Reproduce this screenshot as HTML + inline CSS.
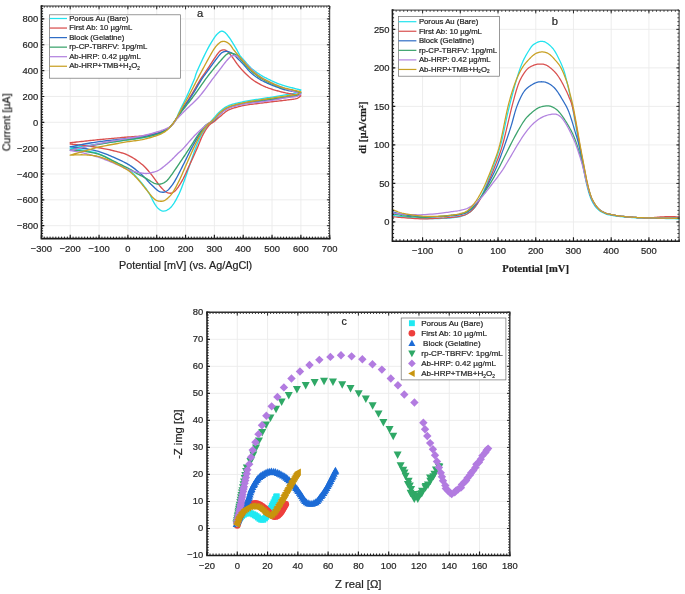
<!DOCTYPE html>
<html><head><meta charset="utf-8"><title>Electrochemical characterisation</title>
<style>html,body{margin:0;padding:0;background:#fff;}body{width:685px;height:594px;overflow:hidden;}svg{display:block;font-family:"Liberation Sans", sans-serif;}text{stroke:#262626;stroke-width:.22px;}</style></head><body>
<svg width="685" height="594" viewBox="0 0 685 594">
<defs><filter id="soft" x="0" y="0" width="100%" height="100%" filterUnits="userSpaceOnUse" color-interpolation-filters="sRGB"><feGaussianBlur stdDeviation="0.42"/></filter></defs>
<rect width="685" height="594" fill="#fff"/>
<g filter="url(#soft)">
<rect width="685" height="594" fill="#fff"/>
<g id="chart-a">
<path d="M70.23 6 V238.6 M99.06 6 V238.6 M127.89 6 V238.6 M156.72 6 V238.6 M185.55 6 V238.6 M214.38 6 V238.6 M243.21 6 V238.6 M272.04 6 V238.6 M300.87 6 V238.6 M41.4 225.68 H329.7 M41.4 199.83 H329.7 M41.4 173.99 H329.7 M41.4 148.14 H329.7 M41.4 122.3 H329.7 M41.4 96.46 H329.7 M41.4 70.61 H329.7 M41.4 44.77 H329.7 M41.4 18.92 H329.7" stroke="#ebebeb" stroke-width="0.9" fill="none"/>
<path d="M70.23 148.14 L71.09 148.01 L72.19 147.84 L73.49 147.64 L74.96 147.42 L76.54 147.18 L78.19 146.92 L79.87 146.67 L81.53 146.41 L83.14 146.17 L84.64 145.95 L86.09 145.74 L87.53 145.53 L88.97 145.32 L90.41 145.11 L91.85 144.91 L93.29 144.7 L94.74 144.5 L96.18 144.29 L97.62 144.09 L99.06 143.88 L100.5 143.67 L101.94 143.47 L103.38 143.26 L104.83 143.05 L106.27 142.85 L107.71 142.64 L109.15 142.43 L110.59 142.23 L112.03 142.02 L113.47 141.81 L114.92 141.61 L116.36 141.4 L117.8 141.19 L119.24 140.98 L120.68 140.77 L122.12 140.56 L123.57 140.36 L125.01 140.15 L126.45 139.95 L127.89 139.75 L129.33 139.55 L130.77 139.38 L132.21 139.21 L133.66 139.04 L135.1 138.87 L136.54 138.7 L137.98 138.51 L139.42 138.3 L140.86 138.07 L142.31 137.81 L143.77 137.51 L145.28 137.19 L146.81 136.85 L148.35 136.49 L149.87 136.12 L151.37 135.73 L152.82 135.35 L154.21 134.96 L155.51 134.57 L156.72 134.19 L157.83 133.82 L158.86 133.45 L159.81 133.09 L160.71 132.72 L161.55 132.35 L162.35 131.97 L163.13 131.58 L163.88 131.17 L164.62 130.75 L165.37 130.31 L166.1 129.85 L166.81 129.39 L167.5 128.9 L168.16 128.41 L168.79 127.91 L169.41 127.38 L170.01 126.85 L170.59 126.3 L171.16 125.73 L171.71 125.14 L172.25 124.54 L172.76 123.92 L173.26 123.28 L173.73 122.63 L174.19 121.96 L174.64 121.28 L175.07 120.58 L175.5 119.87 L175.91 119.15 L176.32 118.42 L176.71 117.7 L177.05 117 L177.36 116.3 L177.66 115.6 L177.96 114.87 L178.27 114.11 L178.6 113.29 L178.97 112.42 L179.39 111.46 L179.87 110.41 L180.42 109.27 L181.02 108.04 L181.67 106.73 L182.35 105.37 L183.06 103.95 L183.79 102.49 L184.52 101 L185.26 99.49 L185.99 97.97 L186.7 96.46 L187.43 94.89 L188.18 93.24 L188.96 91.53 L189.74 89.79 L190.52 88.04 L191.28 86.31 L192.01 84.64 L192.7 83.04 L193.34 81.54 L193.91 80.17 L194.38 79 L194.74 78.01 L195.03 77.16 L195.26 76.4 L195.48 75.67 L195.71 74.91 L195.99 74.08 L196.34 73.13 L196.79 71.99 L197.37 70.61 L198.1 68.96 L198.96 67.05 L199.91 64.96 L200.93 62.74 L202 60.44 L203.09 58.13 L204.18 55.87 L205.22 53.71 L206.21 51.71 L207.11 49.94 L207.96 48.33 L208.77 46.82 L209.57 45.4 L210.34 44.07 L211.09 42.81 L211.8 41.64 L212.49 40.54 L213.15 39.51 L213.78 38.55 L214.38 37.66 L214.94 36.85 L215.45 36.15 L215.92 35.54 L216.37 35 L216.79 34.53 L217.19 34.12 L217.57 33.74 L217.95 33.4 L218.32 33.07 L218.7 32.75 L219.08 32.44 L219.43 32.16 L219.76 31.92 L220.09 31.71 L220.41 31.53 L220.72 31.39 L221.04 31.28 L221.36 31.21 L221.7 31.19 L222.05 31.2 L222.41 31.25 L222.77 31.33 L223.14 31.44 L223.5 31.6 L223.88 31.79 L224.26 32.02 L224.66 32.3 L225.06 32.61 L225.48 32.98 L225.91 33.4 L226.36 33.87 L226.83 34.4 L227.31 34.98 L227.8 35.62 L228.3 36.29 L228.81 36.99 L229.33 37.72 L229.84 38.46 L230.36 39.22 L230.87 39.99 L231.39 40.78 L231.92 41.61 L232.47 42.48 L233.01 43.38 L233.56 44.29 L234.1 45.2 L234.63 46.1 L235.15 46.99 L235.65 47.84 L236.12 48.64 L236.57 49.42 L237 50.2 L237.42 50.97 L237.82 51.72 L238.21 52.45 L238.59 53.15 L238.97 53.83 L239.33 54.47 L239.69 55.07 L240.04 55.62 L240.36 56.1 L240.63 56.48 L240.87 56.79 L241.1 57.07 L241.33 57.33 L241.59 57.59 L241.87 57.89 L242.21 58.25 L242.62 58.69 L243.12 59.24 L243.71 59.91 L244.38 60.68 L245.1 61.53 L245.88 62.44 L246.7 63.38 L247.55 64.34 L248.42 65.29 L249.29 66.22 L250.15 67.09 L250.99 67.9 L251.83 68.65 L252.69 69.38 L253.56 70.08 L254.44 70.77 L255.32 71.43 L256.21 72.08 L257.1 72.71 L257.99 73.32 L258.88 73.91 L259.76 74.49 L260.63 75.04 L261.51 75.57 L262.38 76.08 L263.25 76.57 L264.13 77.04 L265 77.5 L265.87 77.95 L266.75 78.39 L267.62 78.83 L268.49 79.27 L269.37 79.71 L270.26 80.14 L271.15 80.57 L272.05 81 L272.94 81.41 L273.82 81.81 L274.7 82.2 L275.56 82.58 L276.41 82.94 L277.23 83.27 L278.02 83.59 L278.78 83.89 L279.52 84.16 L280.25 84.42 L280.96 84.67 L281.68 84.91 L282.41 85.15 L283.15 85.38 L283.92 85.62 L284.73 85.86 L285.57 86.1 L286.45 86.35 L287.35 86.59 L288.28 86.83 L289.21 87.07 L290.14 87.3 L291.06 87.53 L291.96 87.76 L292.83 87.97 L293.66 88.19 L294.49 88.4 L295.33 88.61 L296.18 88.82 L297.02 89.03 L297.82 89.24 L298.59 89.43 L299.29 89.6 L299.92 89.76 L300.45 89.89 L300.87 89.99 L300.64 90.17 L300.37 90.4 L300.07 90.67 L299.73 90.98 L299.34 91.3 L298.9 91.64 L298.4 91.97 L297.85 92.29 L297.23 92.58 L296.55 92.84 L295.79 93.06 L294.97 93.25 L294.08 93.44 L293.13 93.6 L292.13 93.77 L291.08 93.93 L289.98 94.09 L288.84 94.26 L287.67 94.44 L286.45 94.65 L285.19 94.87 L283.85 95.1 L282.45 95.34 L281 95.59 L279.52 95.85 L278.01 96.11 L276.5 96.36 L274.99 96.62 L273.5 96.86 L272.04 97.1 L270.6 97.33 L269.16 97.55 L267.72 97.77 L266.27 97.99 L264.83 98.2 L263.39 98.41 L261.95 98.63 L260.51 98.85 L259.07 99.07 L257.62 99.3 L256.18 99.53 L254.74 99.75 L253.3 99.98 L251.86 100.2 L250.42 100.43 L248.98 100.67 L247.53 100.91 L246.09 101.18 L244.65 101.45 L243.21 101.75 L241.74 102.07 L240.23 102.39 L238.7 102.72 L237.17 103.06 L235.64 103.42 L234.15 103.79 L232.7 104.18 L231.31 104.6 L230 105.04 L228.8 105.5 L227.68 106 L226.65 106.53 L225.69 107.08 L224.78 107.66 L223.93 108.26 L223.12 108.86 L222.35 109.48 L221.6 110.1 L220.87 110.71 L220.15 111.32 L219.46 111.91 L218.82 112.5 L218.23 113.09 L217.67 113.68 L217.14 114.28 L216.61 114.89 L216.08 115.51 L215.54 116.16 L214.98 116.82 L214.38 117.52 L213.75 118.24 L213.11 118.98 L212.45 119.74 L211.78 120.52 L211.11 121.31 L210.43 122.13 L209.76 122.96 L209.08 123.8 L208.41 124.66 L207.75 125.53 L207.09 126.41 L206.42 127.29 L205.76 128.18 L205.09 129.08 L204.43 130 L203.77 130.94 L203.12 131.92 L202.48 132.93 L201.85 133.99 L201.23 135.09 L200.64 136.25 L200.05 137.44 L199.48 138.67 L198.92 139.94 L198.37 141.25 L197.83 142.58 L197.28 143.94 L196.74 145.32 L196.19 146.72 L195.64 148.14 L195.09 149.59 L194.54 151.08 L193.99 152.59 L193.45 154.13 L192.9 155.7 L192.36 157.27 L191.81 158.86 L191.26 160.46 L190.71 162.06 L190.16 163.65 L189.61 165.25 L189.06 166.87 L188.51 168.51 L187.96 170.15 L187.41 171.8 L186.86 173.45 L186.3 175.09 L185.73 176.72 L185.16 178.34 L184.57 179.93 L183.98 181.52 L183.38 183.13 L182.78 184.73 L182.17 186.33 L181.56 187.91 L180.93 189.47 L180.3 191 L179.66 192.49 L179.01 193.93 L178.34 195.31 L177.66 196.66 L176.96 198 L176.25 199.31 L175.53 200.59 L174.8 201.83 L174.07 203.01 L173.33 204.12 L172.59 205.15 L171.86 206.1 L171.14 206.94 L170.41 207.69 L169.67 208.35 L168.92 208.94 L168.17 209.45 L167.42 209.89 L166.69 210.26 L165.96 210.56 L165.26 210.79 L164.58 210.96 L163.93 211.08 L163.31 211.11 L162.71 211.07 L162.13 210.94 L161.57 210.75 L161.03 210.49 L160.5 210.19 L159.98 209.84 L159.46 209.46 L158.95 209.05 L158.45 208.62 L157.95 208.16 L157.46 207.65 L156.98 207.09 L156.51 206.5 L156.05 205.87 L155.6 205.21 L155.15 204.53 L154.71 203.83 L154.27 203.13 L153.84 202.42 L153.42 201.69 L153.03 200.94 L152.65 200.17 L152.28 199.38 L151.91 198.57 L151.53 197.75 L151.14 196.92 L150.73 196.09 L150.28 195.25 L149.8 194.41 L149.28 193.56 L148.74 192.69 L148.17 191.81 L147.58 190.93 L146.97 190.04 L146.35 189.14 L145.71 188.25 L145.06 187.36 L144.41 186.49 L143.75 185.62 L143.07 184.76 L142.37 183.89 L141.66 183.02 L140.93 182.15 L140.2 181.29 L139.46 180.44 L138.72 179.6 L137.98 178.79 L137.25 177.99 L136.54 177.22 L135.88 176.49 L135.28 175.81 L134.73 175.17 L134.19 174.54 L133.64 173.92 L133.04 173.3 L132.36 172.66 L131.59 171.99 L130.68 171.27 L129.62 170.5 L128.37 169.66 L126.95 168.75 L125.4 167.8 L123.74 166.81 L122.02 165.81 L120.25 164.8 L118.48 163.81 L116.74 162.85 L115.06 161.93 L113.47 161.07 L111.96 160.25 L110.48 159.44 L109.02 158.65 L107.58 157.88 L106.16 157.14 L104.74 156.43 L103.33 155.75 L101.92 155.11 L100.49 154.51 L99.06 153.96 L97.62 153.46 L96.18 153.01 L94.74 152.61 L93.29 152.25 L91.85 151.92 L90.41 151.61 L88.97 151.32 L87.53 151.04 L86.09 150.76 L84.64 150.47 L83.14 150.18 L81.53 149.89 L79.87 149.61 L78.19 149.34 L76.54 149.09 L74.96 148.85 L73.49 148.63 L72.19 148.44 L71.09 148.28 L70.23 148.14" stroke="#22e3ee" stroke-width="1.35" fill="none" stroke-linejoin="round" stroke-linecap="round"/>
<path d="M70.23 142.72 L71.09 142.62 L72.19 142.51 L73.49 142.37 L74.96 142.21 L76.54 142.04 L78.19 141.86 L79.87 141.68 L81.53 141.5 L83.14 141.33 L84.64 141.17 L86.09 141.01 L87.53 140.85 L88.97 140.69 L90.41 140.53 L91.85 140.37 L93.29 140.22 L94.74 140.06 L96.18 139.91 L97.62 139.76 L99.06 139.62 L100.5 139.48 L101.94 139.34 L103.38 139.21 L104.83 139.08 L106.27 138.95 L107.71 138.83 L109.15 138.7 L110.59 138.58 L112.03 138.45 L113.47 138.32 L114.92 138.19 L116.36 138.06 L117.8 137.93 L119.24 137.8 L120.68 137.67 L122.12 137.54 L123.57 137.41 L125.01 137.28 L126.45 137.16 L127.89 137.03 L129.33 136.92 L130.77 136.82 L132.21 136.72 L133.66 136.63 L135.1 136.54 L136.54 136.44 L137.98 136.33 L139.42 136.2 L140.86 136.05 L142.31 135.87 L143.77 135.66 L145.28 135.44 L146.81 135.19 L148.35 134.93 L149.87 134.65 L151.37 134.36 L152.82 134.07 L154.21 133.76 L155.51 133.46 L156.72 133.15 L157.83 132.85 L158.86 132.54 L159.81 132.23 L160.71 131.92 L161.55 131.6 L162.35 131.26 L163.13 130.92 L163.88 130.56 L164.62 130.19 L165.37 129.79 L166.1 129.39 L166.81 128.98 L167.49 128.56 L168.14 128.13 L168.77 127.68 L169.39 127.21 L169.99 126.73 L170.57 126.23 L171.15 125.7 L171.71 125.14 L172.26 124.56 L172.79 123.95 L173.29 123.32 L173.78 122.67 L174.26 121.99 L174.73 121.3 L175.2 120.6 L175.66 119.88 L176.13 119.16 L176.61 118.42 L177.08 117.7 L177.51 117 L177.92 116.3 L178.33 115.6 L178.75 114.87 L179.18 114.11 L179.65 113.29 L180.17 112.42 L180.75 111.46 L181.4 110.41 L182.13 109.27 L182.93 108.04 L183.79 106.73 L184.69 105.37 L185.63 103.95 L186.59 102.49 L187.57 101 L188.54 99.49 L189.51 97.97 L190.45 96.46 L191.4 94.89 L192.37 93.24 L193.37 91.53 L194.37 89.79 L195.37 88.04 L196.36 86.31 L197.32 84.64 L198.25 83.04 L199.13 81.54 L199.97 80.17 L200.73 78.96 L201.42 77.88 L202.07 76.92 L202.68 76.03 L203.27 75.18 L203.86 74.36 L204.45 73.52 L205.07 72.63 L205.73 71.67 L206.45 70.61 L207.24 69.42 L208.09 68.13 L208.98 66.77 L209.9 65.36 L210.82 63.94 L211.74 62.54 L212.63 61.18 L213.47 59.9 L214.25 58.72 L214.96 57.69 L215.58 56.78 L216.14 55.94 L216.66 55.19 L217.13 54.5 L217.57 53.88 L217.98 53.31 L218.38 52.8 L218.77 52.33 L219.17 51.89 L219.57 51.49 L219.98 51.13 L220.37 50.83 L220.76 50.6 L221.14 50.4 L221.5 50.25 L221.86 50.14 L222.21 50.05 L222.55 49.98 L222.88 49.92 L223.2 49.87 L223.51 49.83 L223.8 49.81 L224.07 49.82 L224.33 49.85 L224.59 49.9 L224.84 49.97 L225.09 50.06 L225.36 50.17 L225.63 50.3 L225.91 50.45 L226.2 50.62 L226.5 50.79 L226.79 50.98 L227.09 51.19 L227.39 51.43 L227.7 51.68 L228.03 51.97 L228.36 52.29 L228.71 52.64 L229.08 53.04 L229.47 53.48 L229.89 53.97 L230.32 54.5 L230.76 55.06 L231.21 55.65 L231.67 56.26 L232.13 56.88 L232.59 57.5 L233.05 58.12 L233.49 58.72 L233.93 59.32 L234.36 59.93 L234.78 60.55 L235.21 61.17 L235.63 61.8 L236.06 62.43 L236.5 63.06 L236.95 63.68 L237.4 64.31 L237.88 64.93 L238.35 65.53 L238.83 66.13 L239.3 66.71 L239.79 67.3 L240.28 67.88 L240.79 68.47 L241.33 69.08 L241.89 69.7 L242.49 70.33 L243.12 71 L243.8 71.7 L244.52 72.44 L245.26 73.2 L246.04 73.98 L246.84 74.77 L247.66 75.56 L248.48 76.33 L249.32 77.09 L250.16 77.81 L250.99 78.49 L251.83 79.14 L252.69 79.78 L253.56 80.39 L254.44 80.99 L255.32 81.56 L256.21 82.12 L257.1 82.66 L257.99 83.19 L258.88 83.69 L259.76 84.18 L260.63 84.65 L261.51 85.09 L262.38 85.51 L263.25 85.92 L264.13 86.3 L265 86.68 L265.87 87.04 L266.75 87.38 L267.62 87.72 L268.49 88.06 L269.37 88.38 L270.26 88.69 L271.15 88.98 L272.05 89.26 L272.94 89.53 L273.82 89.8 L274.7 90.05 L275.56 90.3 L276.41 90.54 L277.23 90.77 L278.02 91 L278.78 91.21 L279.52 91.42 L280.25 91.61 L280.96 91.8 L281.68 91.99 L282.41 92.17 L283.15 92.35 L283.92 92.53 L284.73 92.71 L285.57 92.89 L286.45 93.06 L287.35 93.24 L288.28 93.41 L289.21 93.58 L290.14 93.75 L291.06 93.91 L291.96 94.07 L292.83 94.23 L293.66 94.39 L294.49 94.55 L295.33 94.71 L296.18 94.88 L297.02 95.04 L297.82 95.2 L298.59 95.36 L299.29 95.5 L299.92 95.62 L300.45 95.73 L300.87 95.81 L300.64 95.98 L300.37 96.2 L300.07 96.46 L299.73 96.76 L299.34 97.07 L298.9 97.39 L298.4 97.71 L297.85 98.01 L297.23 98.29 L296.55 98.52 L295.79 98.72 L294.97 98.91 L294.08 99.07 L293.13 99.22 L292.13 99.36 L291.08 99.5 L289.98 99.64 L288.84 99.77 L287.67 99.92 L286.45 100.07 L285.19 100.24 L283.85 100.4 L282.45 100.56 L281 100.73 L279.52 100.9 L278.01 101.07 L276.5 101.24 L274.99 101.41 L273.5 101.58 L272.04 101.75 L270.6 101.93 L269.16 102.1 L267.72 102.28 L266.27 102.46 L264.83 102.63 L263.39 102.81 L261.95 103 L260.51 103.18 L259.07 103.37 L257.62 103.56 L256.18 103.75 L254.74 103.92 L253.3 104.09 L251.86 104.27 L250.42 104.44 L248.98 104.63 L247.53 104.84 L246.09 105.07 L244.65 105.33 L243.21 105.63 L241.74 105.96 L240.23 106.31 L238.7 106.67 L237.17 107.07 L235.64 107.48 L234.15 107.92 L232.7 108.38 L231.31 108.86 L230 109.36 L228.8 109.89 L227.68 110.47 L226.65 111.09 L225.69 111.75 L224.78 112.44 L223.93 113.15 L223.12 113.86 L222.35 114.56 L221.6 115.24 L220.87 115.88 L220.15 116.48 L219.45 117.05 L218.8 117.59 L218.2 118.11 L217.62 118.61 L217.06 119.09 L216.53 119.57 L216 120.03 L215.47 120.49 L214.93 120.94 L214.38 121.4 L213.82 121.82 L213.28 122.19 L212.74 122.52 L212.2 122.84 L211.66 123.17 L211.13 123.52 L210.59 123.92 L210.04 124.37 L209.48 124.9 L208.9 125.53 L208.31 126.25 L207.71 127.04 L207.09 127.89 L206.47 128.8 L205.84 129.75 L205.21 130.76 L204.58 131.8 L203.96 132.87 L203.36 133.97 L202.76 135.09 L202.19 136.24 L201.64 137.42 L201.11 138.63 L200.59 139.88 L200.07 141.17 L199.54 142.49 L199 143.84 L198.43 145.24 L197.83 146.67 L197.2 148.14 L196.52 149.68 L195.8 151.29 L195.05 152.97 L194.27 154.68 L193.48 156.42 L192.69 158.17 L191.89 159.92 L191.1 161.64 L190.33 163.32 L189.59 164.94 L188.85 166.54 L188.12 168.15 L187.39 169.76 L186.66 171.36 L185.95 172.93 L185.24 174.46 L184.54 175.94 L183.86 177.35 L183.2 178.69 L182.55 179.93 L181.92 181.1 L181.3 182.2 L180.69 183.23 L180.09 184.21 L179.5 185.13 L178.94 185.98 L178.39 186.78 L177.87 187.53 L177.37 188.22 L176.9 188.85 L176.47 189.41 L176.07 189.89 L175.7 190.3 L175.36 190.65 L175.03 190.95 L174.72 191.21 L174.41 191.44 L174.1 191.66 L173.78 191.87 L173.44 192.08 L173.1 192.29 L172.77 192.49 L172.44 192.67 L172.11 192.84 L171.78 192.98 L171.45 193.09 L171.1 193.18 L170.75 193.23 L170.37 193.26 L169.98 193.24 L169.57 193.2 L169.15 193.14 L168.72 193.04 L168.28 192.93 L167.82 192.77 L167.35 192.59 L166.87 192.36 L166.38 192.1 L165.88 191.79 L165.37 191.43 L164.85 191.04 L164.34 190.62 L163.81 190.17 L163.28 189.68 L162.74 189.14 L162.17 188.56 L161.58 187.92 L160.96 187.22 L160.3 186.45 L159.6 185.62 L158.86 184.68 L158.07 183.64 L157.25 182.51 L156.39 181.31 L155.51 180.07 L154.61 178.81 L153.7 177.55 L152.79 176.31 L151.87 175.12 L150.95 173.99 L150.06 172.91 L149.17 171.85 L148.29 170.81 L147.4 169.78 L146.5 168.77 L145.58 167.77 L144.62 166.79 L143.62 165.82 L142.56 164.86 L141.44 163.91 L140.25 162.96 L139 162 L137.7 161.04 L136.35 160.09 L134.97 159.16 L133.57 158.26 L132.15 157.39 L130.72 156.58 L129.3 155.82 L127.89 155.12 L126.48 154.5 L125.06 153.94 L123.63 153.44 L122.19 152.98 L120.74 152.56 L119.28 152.17 L117.83 151.8 L116.37 151.45 L114.92 151.09 L113.47 150.73 L112.03 150.37 L110.59 150.03 L109.15 149.71 L107.71 149.4 L106.27 149.11 L104.83 148.82 L103.38 148.55 L101.94 148.28 L100.5 148.02 L99.06 147.76 L97.62 147.5 L96.18 147.26 L94.74 147.02 L93.29 146.79 L91.85 146.57 L90.41 146.35 L88.97 146.15 L87.53 145.95 L86.09 145.75 L84.64 145.56 L83.14 145.37 L81.53 145.18 L79.87 145 L78.19 144.82 L76.54 144.65 L74.96 144.49 L73.49 144.34 L72.19 144.21 L71.09 144.1 L70.23 144.01" stroke="#d9504f" stroke-width="1.35" fill="none" stroke-linejoin="round" stroke-linecap="round"/>
<path d="M70.23 146.72 L71.09 146.56 L72.19 146.35 L73.49 146.1 L74.96 145.81 L76.54 145.51 L78.19 145.2 L79.87 144.88 L81.53 144.57 L83.14 144.28 L84.64 144.01 L86.09 143.76 L87.53 143.51 L88.97 143.26 L90.41 143.02 L91.85 142.78 L93.29 142.55 L94.74 142.32 L96.18 142.1 L97.62 141.89 L99.06 141.68 L100.5 141.49 L101.94 141.3 L103.38 141.13 L104.83 140.96 L106.27 140.79 L107.71 140.64 L109.15 140.48 L110.59 140.32 L112.03 140.16 L113.47 140 L114.92 139.84 L116.36 139.69 L117.8 139.53 L119.24 139.37 L120.68 139.22 L122.12 139.07 L123.57 138.91 L125.01 138.76 L126.45 138.61 L127.89 138.45 L129.33 138.31 L130.77 138.17 L132.21 138.04 L133.66 137.91 L135.1 137.78 L136.54 137.64 L137.98 137.49 L139.42 137.32 L140.86 137.13 L142.31 136.9 L143.77 136.65 L145.28 136.37 L146.81 136.07 L148.35 135.75 L149.87 135.42 L151.37 135.07 L152.82 134.72 L154.21 134.37 L155.51 134.02 L156.72 133.67 L157.83 133.33 L158.86 132.99 L159.81 132.66 L160.71 132.31 L161.55 131.97 L162.35 131.61 L163.13 131.25 L163.88 130.87 L164.62 130.47 L165.37 130.05 L166.1 129.62 L166.81 129.18 L167.49 128.73 L168.14 128.27 L168.77 127.79 L169.39 127.3 L169.99 126.79 L170.57 126.26 L171.15 125.71 L171.71 125.14 L172.26 124.55 L172.78 123.94 L173.28 123.3 L173.76 122.65 L174.23 121.98 L174.7 121.29 L175.17 120.59 L175.64 119.88 L176.12 119.16 L176.61 118.42 L177.1 117.7 L177.56 117 L178.01 116.3 L178.46 115.6 L178.92 114.87 L179.4 114.11 L179.92 113.29 L180.48 112.42 L181.11 111.46 L181.8 110.41 L182.58 109.27 L183.42 108.04 L184.33 106.73 L185.28 105.37 L186.27 103.95 L187.28 102.49 L188.3 101 L189.33 99.49 L190.33 97.97 L191.32 96.46 L192.3 94.89 L193.31 93.24 L194.33 91.53 L195.36 89.79 L196.39 88.04 L197.4 86.31 L198.39 84.64 L199.35 83.04 L200.26 81.54 L201.12 80.17 L201.91 78.95 L202.64 77.86 L203.32 76.88 L203.96 75.96 L204.59 75.1 L205.2 74.26 L205.83 73.42 L206.48 72.55 L207.16 71.62 L207.89 70.61 L208.69 69.51 L209.54 68.33 L210.42 67.1 L211.33 65.84 L212.24 64.58 L213.15 63.33 L214.04 62.13 L214.88 60.98 L215.67 59.93 L216.4 58.98 L217.06 58.13 L217.66 57.34 L218.23 56.61 L218.75 55.93 L219.25 55.31 L219.73 54.74 L220.2 54.22 L220.66 53.74 L221.12 53.3 L221.59 52.91 L222.06 52.56 L222.51 52.28 L222.96 52.05 L223.39 51.87 L223.82 51.73 L224.24 51.62 L224.66 51.54 L225.08 51.48 L225.5 51.44 L225.91 51.41 L226.33 51.39 L226.75 51.41 L227.16 51.45 L227.57 51.52 L227.98 51.61 L228.38 51.72 L228.78 51.84 L229.18 51.98 L229.57 52.12 L229.95 52.26 L230.32 52.41 L230.68 52.56 L231.02 52.72 L231.36 52.89 L231.7 53.07 L232.04 53.28 L232.38 53.5 L232.74 53.75 L233.11 54.02 L233.49 54.33 L233.89 54.67 L234.3 55.04 L234.72 55.45 L235.15 55.88 L235.58 56.32 L236.02 56.79 L236.47 57.26 L236.93 57.75 L237.4 58.24 L237.88 58.72 L238.35 59.2 L238.83 59.67 L239.3 60.14 L239.79 60.61 L240.28 61.1 L240.79 61.61 L241.33 62.15 L241.89 62.72 L242.49 63.35 L243.12 64.02 L243.8 64.77 L244.52 65.59 L245.26 66.47 L246.04 67.4 L246.84 68.34 L247.66 69.29 L248.48 70.23 L249.32 71.14 L250.16 72.01 L250.99 72.81 L251.83 73.56 L252.69 74.28 L253.56 74.98 L254.44 75.66 L255.32 76.31 L256.21 76.95 L257.1 77.56 L257.99 78.15 L258.88 78.72 L259.76 79.27 L260.63 79.8 L261.51 80.29 L262.38 80.77 L263.25 81.22 L264.13 81.65 L265 82.07 L265.87 82.48 L266.75 82.87 L267.62 83.27 L268.49 83.66 L269.37 84.05 L270.26 84.43 L271.15 84.8 L272.05 85.17 L272.94 85.52 L273.82 85.86 L274.7 86.2 L275.56 86.53 L276.41 86.84 L277.23 87.15 L278.02 87.45 L278.78 87.74 L279.52 88.02 L280.25 88.29 L280.96 88.55 L281.68 88.8 L282.41 89.05 L283.15 89.28 L283.92 89.51 L284.73 89.74 L285.57 89.95 L286.45 90.16 L287.35 90.35 L288.28 90.54 L289.21 90.72 L290.14 90.9 L291.06 91.06 L291.96 91.23 L292.83 91.39 L293.66 91.55 L294.49 91.7 L295.33 91.86 L296.18 92.01 L297.02 92.16 L297.82 92.3 L298.59 92.44 L299.29 92.56 L299.92 92.67 L300.45 92.76 L300.87 92.84 L300.64 93 L300.37 93.22 L300.07 93.49 L299.73 93.78 L299.34 94.1 L298.9 94.42 L298.4 94.74 L297.85 95.04 L297.23 95.31 L296.55 95.55 L295.79 95.75 L294.97 95.92 L294.08 96.07 L293.13 96.21 L292.13 96.34 L291.08 96.47 L289.98 96.61 L288.84 96.75 L287.67 96.92 L286.45 97.1 L285.19 97.31 L283.85 97.54 L282.45 97.78 L281 98.04 L279.52 98.3 L278.01 98.56 L276.5 98.82 L274.99 99.08 L273.5 99.32 L272.04 99.56 L270.6 99.78 L269.16 99.99 L267.72 100.2 L266.27 100.41 L264.83 100.61 L263.39 100.81 L261.95 101.01 L260.51 101.21 L259.07 101.41 L257.62 101.62 L256.18 101.83 L254.74 102.03 L253.3 102.22 L251.86 102.41 L250.42 102.6 L248.98 102.81 L247.53 103.03 L246.09 103.26 L244.65 103.53 L243.21 103.82 L241.74 104.14 L240.23 104.47 L238.7 104.82 L237.17 105.19 L235.64 105.58 L234.15 105.99 L232.7 106.42 L231.31 106.86 L230 107.33 L228.8 107.83 L227.69 108.35 L226.66 108.9 L225.7 109.48 L224.81 110.09 L223.97 110.71 L223.16 111.34 L222.39 111.98 L221.64 112.63 L220.89 113.27 L220.15 113.9 L219.42 114.54 L218.75 115.19 L218.11 115.85 L217.5 116.52 L216.9 117.19 L216.31 117.85 L215.72 118.51 L215.11 119.15 L214.47 119.77 L213.8 120.36 L213.1 120.91 L212.37 121.41 L211.63 121.87 L210.87 122.31 L210.1 122.75 L209.33 123.21 L208.56 123.7 L207.8 124.24 L207.05 124.84 L206.31 125.53 L205.58 126.29 L204.87 127.11 L204.17 127.97 L203.47 128.87 L202.77 129.82 L202.07 130.81 L201.37 131.83 L200.66 132.89 L199.94 133.98 L199.22 135.09 L198.48 136.24 L197.73 137.43 L196.98 138.65 L196.23 139.91 L195.47 141.21 L194.71 142.53 L193.94 143.89 L193.16 145.28 L192.39 146.7 L191.6 148.14 L190.82 149.64 L190.02 151.18 L189.22 152.78 L188.41 154.41 L187.6 156.06 L186.78 157.72 L185.97 159.39 L185.15 161.05 L184.34 162.69 L183.53 164.3 L182.71 165.91 L181.88 167.58 L181.04 169.26 L180.19 170.94 L179.35 172.61 L178.52 174.23 L177.71 175.8 L176.93 177.29 L176.17 178.67 L175.46 179.93 L174.78 181.08 L174.13 182.14 L173.5 183.11 L172.89 184.01 L172.31 184.84 L171.74 185.61 L171.2 186.32 L170.68 186.99 L170.18 187.61 L169.69 188.2 L169.24 188.74 L168.81 189.21 L168.41 189.62 L168.04 189.98 L167.68 190.29 L167.33 190.56 L166.99 190.8 L166.64 191.03 L166.3 191.23 L165.95 191.43 L165.59 191.62 L165.25 191.78 L164.91 191.92 L164.58 192.03 L164.25 192.11 L163.92 192.18 L163.58 192.22 L163.23 192.23 L162.87 192.23 L162.49 192.21 L162.1 192.18 L161.72 192.15 L161.34 192.1 L160.96 192.04 L160.56 191.95 L160.14 191.82 L159.7 191.65 L159.22 191.43 L158.71 191.14 L158.16 190.79 L157.56 190.36 L156.93 189.86 L156.26 189.3 L155.56 188.69 L154.83 188.03 L154.08 187.34 L153.31 186.61 L152.53 185.86 L151.75 185.1 L150.95 184.33 L150.17 183.53 L149.38 182.7 L148.59 181.84 L147.79 180.94 L146.97 180.03 L146.12 179.1 L145.24 178.15 L144.32 177.2 L143.34 176.24 L142.31 175.28 L141.22 174.31 L140.08 173.3 L138.91 172.27 L137.69 171.22 L136.43 170.18 L135.14 169.13 L133.81 168.11 L132.44 167.1 L131.05 166.13 L129.62 165.2 L128.14 164.31 L126.58 163.43 L124.98 162.57 L123.33 161.73 L121.66 160.91 L119.97 160.12 L118.3 159.35 L116.65 158.6 L115.03 157.88 L113.47 157.19 L111.96 156.52 L110.48 155.88 L109.02 155.27 L107.58 154.67 L106.16 154.1 L104.74 153.56 L103.33 153.04 L101.92 152.55 L100.49 152.08 L99.06 151.63 L97.62 151.22 L96.18 150.84 L94.74 150.48 L93.29 150.15 L91.85 149.85 L90.41 149.56 L88.97 149.29 L87.53 149.03 L86.09 148.78 L84.64 148.53 L83.14 148.29 L81.53 148.06 L79.87 147.84 L78.19 147.63 L76.54 147.43 L74.96 147.25 L73.49 147.09 L72.19 146.95 L71.09 146.82 L70.23 146.72" stroke="#2f6dc6" stroke-width="1.35" fill="none" stroke-linejoin="round" stroke-linecap="round"/>
<path d="M70.23 149.82 L71.09 149.65 L72.19 149.41 L73.49 149.14 L74.96 148.83 L76.54 148.5 L78.19 148.16 L79.87 147.81 L81.53 147.47 L83.14 147.15 L84.64 146.85 L86.09 146.58 L87.53 146.31 L88.97 146.04 L90.41 145.78 L91.85 145.52 L93.29 145.26 L94.74 145.01 L96.18 144.76 L97.62 144.51 L99.06 144.27 L100.5 144.02 L101.94 143.78 L103.38 143.55 L104.83 143.31 L106.27 143.08 L107.71 142.85 L109.15 142.62 L110.59 142.39 L112.03 142.17 L113.47 141.94 L114.92 141.72 L116.36 141.49 L117.8 141.27 L119.24 141.05 L120.68 140.83 L122.12 140.61 L123.57 140.39 L125.01 140.17 L126.45 139.96 L127.89 139.75 L129.33 139.54 L130.77 139.34 L132.21 139.15 L133.66 138.96 L135.1 138.78 L136.54 138.58 L137.98 138.38 L139.42 138.16 L140.86 137.93 L142.31 137.68 L143.77 137.4 L145.28 137.12 L146.81 136.81 L148.35 136.5 L149.87 136.18 L151.37 135.84 L152.82 135.5 L154.21 135.15 L155.51 134.8 L156.72 134.45 L157.83 134.09 L158.86 133.74 L159.81 133.38 L160.71 133.02 L161.55 132.65 L162.35 132.26 L163.13 131.87 L163.88 131.46 L164.62 131.02 L165.37 130.57 L166.1 130.1 L166.81 129.6 L167.48 129.1 L168.13 128.57 L168.77 128.03 L169.38 127.48 L169.98 126.91 L170.56 126.34 L171.14 125.74 L171.71 125.14 L172.27 124.53 L172.79 123.9 L173.3 123.26 L173.79 122.61 L174.27 121.94 L174.75 121.27 L175.23 120.57 L175.72 119.87 L176.23 119.15 L176.76 118.42 L177.28 117.7 L177.78 117 L178.27 116.3 L178.77 115.6 L179.28 114.87 L179.82 114.11 L180.4 113.29 L181.04 112.42 L181.74 111.46 L182.52 110.41 L183.4 109.27 L184.35 108.04 L185.37 106.73 L186.45 105.37 L187.57 103.95 L188.72 102.49 L189.88 101 L191.04 99.49 L192.2 97.97 L193.33 96.46 L194.48 94.89 L195.66 93.24 L196.87 91.53 L198.1 89.79 L199.32 88.04 L200.52 86.31 L201.69 84.64 L202.82 83.04 L203.88 81.54 L204.87 80.17 L205.76 78.95 L206.58 77.84 L207.33 76.84 L208.04 75.9 L208.71 75.02 L209.37 74.17 L210.04 73.33 L210.72 72.47 L211.44 71.57 L212.22 70.61 L213.05 69.59 L213.94 68.52 L214.86 67.42 L215.8 66.3 L216.75 65.19 L217.68 64.1 L218.59 63.05 L219.46 62.05 L220.27 61.12 L221.01 60.27 L221.68 59.51 L222.3 58.79 L222.88 58.13 L223.41 57.51 L223.92 56.95 L224.4 56.42 L224.86 55.94 L225.31 55.5 L225.75 55.09 L226.2 54.72 L226.64 54.39 L227.06 54.12 L227.46 53.89 L227.85 53.71 L228.23 53.56 L228.6 53.45 L228.96 53.35 L229.32 53.28 L229.68 53.22 L230.03 53.17 L230.39 53.13 L230.75 53.13 L231.1 53.15 L231.45 53.19 L231.79 53.25 L232.13 53.33 L232.46 53.42 L232.78 53.51 L233.1 53.6 L233.41 53.68 L233.7 53.76 L233.98 53.84 L234.25 53.92 L234.51 54.01 L234.76 54.1 L235.02 54.21 L235.28 54.33 L235.55 54.48 L235.82 54.65 L236.12 54.85 L236.43 55.07 L236.74 55.32 L237.06 55.6 L237.39 55.89 L237.73 56.2 L238.07 56.53 L238.42 56.87 L238.76 57.22 L239.11 57.58 L239.46 57.95 L239.8 58.31 L240.11 58.66 L240.4 59.01 L240.7 59.37 L241.01 59.75 L241.34 60.15 L241.71 60.59 L242.12 61.08 L242.59 61.61 L243.12 62.21 L243.74 62.89 L244.41 63.65 L245.15 64.47 L245.93 65.34 L246.74 66.24 L247.58 67.16 L248.43 68.07 L249.3 68.96 L250.15 69.81 L250.99 70.61 L251.83 71.38 L252.69 72.13 L253.56 72.88 L254.44 73.61 L255.32 74.33 L256.21 75.02 L257.1 75.7 L257.99 76.36 L258.88 76.99 L259.76 77.59 L260.63 78.16 L261.51 78.7 L262.38 79.22 L263.25 79.71 L264.13 80.18 L265 80.64 L265.87 81.08 L266.75 81.52 L267.62 81.94 L268.49 82.37 L269.37 82.79 L270.26 83.2 L271.15 83.61 L272.05 84 L272.94 84.38 L273.82 84.75 L274.7 85.11 L275.56 85.46 L276.41 85.79 L277.23 86.12 L278.02 86.43 L278.78 86.72 L279.52 86.99 L280.25 87.25 L280.96 87.51 L281.68 87.75 L282.41 87.99 L283.15 88.23 L283.92 88.46 L284.73 88.7 L285.57 88.94 L286.45 89.17 L287.35 89.4 L288.28 89.62 L289.21 89.84 L290.14 90.06 L291.06 90.27 L291.96 90.48 L292.83 90.69 L293.66 90.9 L294.49 91.11 L295.33 91.33 L296.18 91.56 L297.02 91.79 L297.82 92.01 L298.59 92.21 L299.29 92.41 L299.92 92.58 L300.45 92.72 L300.87 92.84 L300.64 92.99 L300.37 93.19 L300.07 93.43 L299.73 93.69 L299.34 93.98 L298.9 94.27 L298.4 94.55 L297.85 94.83 L297.23 95.08 L296.55 95.29 L295.79 95.47 L294.97 95.63 L294.08 95.77 L293.13 95.89 L292.13 96.01 L291.08 96.13 L289.98 96.25 L288.84 96.39 L287.67 96.54 L286.45 96.71 L285.19 96.91 L283.85 97.13 L282.45 97.36 L281 97.6 L279.52 97.84 L278.01 98.09 L276.5 98.34 L274.99 98.59 L273.5 98.82 L272.04 99.04 L270.6 99.25 L269.16 99.45 L267.72 99.64 L266.27 99.82 L264.83 100.01 L263.39 100.19 L261.95 100.38 L260.51 100.57 L259.07 100.77 L257.62 100.98 L256.18 101.19 L254.74 101.39 L253.3 101.59 L251.86 101.79 L250.42 102 L248.98 102.23 L247.53 102.46 L246.09 102.72 L244.65 103 L243.21 103.3 L241.74 103.64 L240.23 103.98 L238.7 104.35 L237.17 104.74 L235.64 105.14 L234.15 105.56 L232.7 106 L231.31 106.46 L230 106.94 L228.8 107.44 L227.69 107.96 L226.66 108.52 L225.71 109.09 L224.82 109.69 L223.98 110.31 L223.18 110.93 L222.41 111.57 L221.65 112.22 L220.9 112.87 L220.15 113.51 L219.41 114.17 L218.71 114.86 L218.05 115.56 L217.42 116.28 L216.79 116.99 L216.17 117.71 L215.55 118.41 L214.9 119.09 L214.23 119.74 L213.52 120.36 L212.76 120.93 L211.98 121.43 L211.18 121.9 L210.36 122.34 L209.53 122.78 L208.7 123.23 L207.86 123.71 L207.04 124.24 L206.23 124.84 L205.44 125.53 L204.68 126.29 L203.93 127.11 L203.2 127.97 L202.47 128.87 L201.75 129.82 L201.02 130.81 L200.29 131.83 L199.54 132.89 L198.79 133.98 L198 135.09 L197.21 136.24 L196.42 137.43 L195.62 138.66 L194.82 139.93 L194 141.22 L193.16 142.55 L192.31 143.91 L191.43 145.3 L190.52 146.71 L189.59 148.14 L188.59 149.64 L187.54 151.23 L186.44 152.87 L185.32 154.55 L184.18 156.25 L183.04 157.93 L181.94 159.57 L180.87 161.15 L179.86 162.65 L178.92 164.04 L178.05 165.33 L177.22 166.57 L176.43 167.75 L175.68 168.88 L174.95 169.95 L174.26 170.98 L173.6 171.96 L172.95 172.89 L172.32 173.78 L171.71 174.63 L171.13 175.44 L170.57 176.19 L170.05 176.9 L169.56 177.55 L169.08 178.16 L168.62 178.74 L168.17 179.28 L167.72 179.78 L167.27 180.26 L166.81 180.71 L166.35 181.13 L165.9 181.5 L165.45 181.83 L165.01 182.14 L164.58 182.4 L164.15 182.65 L163.72 182.87 L163.3 183.07 L162.89 183.25 L162.49 183.42 L162.09 183.58 L161.72 183.71 L161.36 183.82 L161 183.91 L160.65 183.98 L160.29 184.03 L159.93 184.06 L159.55 184.08 L159.16 184.08 L158.74 184.07 L158.31 184.05 L157.89 184.04 L157.47 184.01 L157.04 183.97 L156.59 183.91 L156.12 183.83 L155.62 183.7 L155.08 183.53 L154.48 183.31 L153.84 183.03 L153.12 182.68 L152.35 182.25 L151.52 181.77 L150.65 181.23 L149.75 180.67 L148.83 180.09 L147.9 179.5 L146.98 178.92 L146.07 178.37 L145.19 177.87 L144.32 177.39 L143.43 176.92 L142.54 176.45 L141.65 176 L140.76 175.55 L139.87 175.1 L139.01 174.66 L138.16 174.22 L137.33 173.78 L136.54 173.34 L135.82 172.92 L135.19 172.53 L134.63 172.16 L134.09 171.8 L133.55 171.43 L132.97 171.04 L132.32 170.63 L131.57 170.17 L130.68 169.66 L129.62 169.08 L128.37 168.42 L126.95 167.7 L125.4 166.91 L123.74 166.08 L122.02 165.23 L120.25 164.36 L118.48 163.49 L116.74 162.65 L115.06 161.83 L113.47 161.07 L111.96 160.33 L110.48 159.58 L109.02 158.84 L107.58 158.11 L106.16 157.39 L104.74 156.7 L103.33 156.05 L101.92 155.43 L100.49 154.86 L99.06 154.35 L97.62 153.89 L96.18 153.49 L94.74 153.14 L93.29 152.82 L91.85 152.54 L90.41 152.28 L88.97 152.04 L87.53 151.82 L86.09 151.6 L84.64 151.38 L83.14 151.16 L81.53 150.95 L79.87 150.76 L78.19 150.58 L76.54 150.41 L74.96 150.26 L73.49 150.13 L72.19 150.01 L71.09 149.91 L70.23 149.82" stroke="#3ba36c" stroke-width="1.35" fill="none" stroke-linejoin="round" stroke-linecap="round"/>
<path d="M70.23 150.47 L71.09 150.25 L72.19 149.97 L73.49 149.64 L74.96 149.27 L76.54 148.86 L78.19 148.45 L79.87 148.02 L81.53 147.61 L83.14 147.21 L84.64 146.85 L86.09 146.51 L87.53 146.17 L88.97 145.84 L90.41 145.51 L91.85 145.18 L93.29 144.86 L94.74 144.54 L96.18 144.23 L97.62 143.92 L99.06 143.62 L100.5 143.33 L101.94 143.04 L103.38 142.76 L104.83 142.49 L106.27 142.22 L107.71 141.95 L109.15 141.69 L110.59 141.43 L112.03 141.17 L113.47 140.91 L114.92 140.65 L116.36 140.4 L117.8 140.16 L119.24 139.91 L120.68 139.67 L122.12 139.43 L123.57 139.19 L125.01 138.95 L126.45 138.7 L127.89 138.45 L129.33 138.21 L130.77 137.96 L132.21 137.73 L133.66 137.49 L135.1 137.25 L136.54 137 L137.98 136.74 L139.42 136.47 L140.86 136.18 L142.31 135.87 L143.77 135.53 L145.28 135.16 L146.81 134.77 L148.35 134.37 L149.87 133.95 L151.37 133.54 L152.82 133.13 L154.21 132.73 L155.51 132.35 L156.72 131.99 L157.83 131.66 L158.86 131.35 L159.81 131.05 L160.71 130.77 L161.55 130.49 L162.35 130.21 L163.13 129.93 L163.88 129.64 L164.62 129.34 L165.37 129.02 L166.1 128.7 L166.8 128.39 L167.47 128.08 L168.11 127.77 L168.74 127.44 L169.35 127.1 L169.95 126.74 L170.54 126.33 L171.12 125.89 L171.71 125.4 L172.28 124.86 L172.82 124.28 L173.34 123.66 L173.84 123.01 L174.35 122.33 L174.86 121.63 L175.39 120.91 L175.95 120.17 L176.54 119.43 L177.19 118.68 L177.86 117.94 L178.53 117.22 L179.2 116.49 L179.9 115.76 L180.64 115 L181.41 114.2 L182.24 113.36 L183.14 112.45 L184.11 111.48 L185.18 110.41 L186.35 109.26 L187.65 108.02 L189.04 106.72 L190.5 105.35 L192.01 103.93 L193.54 102.48 L195.07 100.99 L196.57 99.49 L198.02 97.97 L199.39 96.46 L200.72 94.89 L202.05 93.24 L203.38 91.53 L204.69 89.79 L205.98 88.04 L207.23 86.31 L208.43 84.64 L209.59 83.04 L210.68 81.54 L211.7 80.17 L212.63 78.95 L213.48 77.83 L214.25 76.82 L214.97 75.87 L215.65 74.98 L216.3 74.12 L216.95 73.28 L217.6 72.42 L218.28 71.54 L218.99 70.61 L219.75 69.62 L220.53 68.59 L221.34 67.54 L222.14 66.48 L222.94 65.43 L223.73 64.4 L224.49 63.42 L225.21 62.5 L225.88 61.66 L226.49 60.92 L227.04 60.27 L227.53 59.69 L227.98 59.18 L228.4 58.73 L228.78 58.32 L229.15 57.96 L229.49 57.64 L229.84 57.34 L230.18 57.06 L230.52 56.78 L230.87 56.54 L231.21 56.32 L231.54 56.15 L231.86 56 L232.17 55.88 L232.47 55.78 L232.76 55.7 L233.04 55.63 L233.32 55.58 L233.58 55.53 L233.83 55.5 L234.07 55.49 L234.29 55.51 L234.5 55.54 L234.7 55.59 L234.9 55.64 L235.1 55.7 L235.3 55.77 L235.5 55.83 L235.71 55.88 L235.93 55.93 L236.14 55.98 L236.35 56.02 L236.56 56.07 L236.78 56.13 L236.99 56.19 L237.21 56.26 L237.43 56.33 L237.65 56.42 L237.88 56.53 L238.11 56.64 L238.34 56.76 L238.58 56.9 L238.82 57.04 L239.06 57.19 L239.31 57.35 L239.56 57.52 L239.81 57.69 L240.07 57.88 L240.33 58.08 L240.57 58.26 L240.78 58.42 L240.98 58.56 L241.18 58.71 L241.39 58.88 L241.62 59.09 L241.9 59.34 L242.23 59.65 L242.64 60.05 L243.12 60.53 L243.7 61.13 L244.36 61.83 L245.08 62.61 L245.86 63.46 L246.69 64.35 L247.54 65.27 L248.41 66.19 L249.28 67.1 L250.15 67.98 L250.99 68.8 L251.83 69.59 L252.69 70.39 L253.56 71.18 L254.44 71.97 L255.32 72.74 L256.21 73.5 L257.1 74.24 L257.99 74.96 L258.88 75.65 L259.76 76.3 L260.63 76.91 L261.51 77.5 L262.38 78.06 L263.25 78.59 L264.13 79.1 L265 79.59 L265.87 80.07 L266.75 80.54 L267.62 81.01 L268.49 81.47 L269.37 81.92 L270.26 82.36 L271.15 82.79 L272.05 83.21 L272.94 83.61 L273.82 84.01 L274.7 84.39 L275.56 84.76 L276.41 85.12 L277.23 85.47 L278.02 85.8 L278.78 86.11 L279.52 86.4 L280.25 86.67 L280.96 86.94 L281.68 87.21 L282.41 87.47 L283.15 87.74 L283.92 88.02 L284.73 88.31 L285.57 88.62 L286.45 88.95 L287.35 89.28 L288.28 89.61 L289.21 89.95 L290.14 90.28 L291.06 90.61 L291.96 90.93 L292.83 91.25 L293.66 91.55 L294.49 91.84 L295.33 92.14 L296.18 92.45 L297.02 92.75 L297.82 93.04 L298.59 93.31 L299.29 93.56 L299.92 93.79 L300.45 93.98 L300.87 94.13 L300.64 94.27 L300.37 94.46 L300.07 94.69 L299.73 94.94 L299.34 95.21 L298.9 95.49 L298.4 95.76 L297.85 96.02 L297.23 96.25 L296.55 96.46 L295.79 96.62 L294.97 96.76 L294.08 96.88 L293.13 96.98 L292.13 97.09 L291.08 97.19 L289.98 97.3 L288.84 97.42 L287.67 97.57 L286.45 97.75 L285.19 97.96 L283.85 98.19 L282.45 98.45 L281 98.72 L279.52 99 L278.01 99.28 L276.5 99.56 L274.99 99.84 L273.5 100.09 L272.04 100.33 L270.6 100.55 L269.16 100.76 L267.72 100.96 L266.27 101.15 L264.83 101.34 L263.39 101.53 L261.95 101.71 L260.51 101.89 L259.07 102.08 L257.62 102.27 L256.18 102.46 L254.74 102.63 L253.3 102.79 L251.86 102.95 L250.42 103.12 L248.98 103.29 L247.53 103.48 L246.09 103.7 L244.65 103.94 L243.21 104.21 L241.74 104.51 L240.23 104.83 L238.7 105.17 L237.17 105.53 L235.64 105.9 L234.15 106.3 L232.7 106.72 L231.31 107.16 L230 107.61 L228.8 108.09 L227.69 108.59 L226.66 109.12 L225.71 109.68 L224.82 110.26 L223.98 110.86 L223.18 111.46 L222.41 112.08 L221.65 112.69 L220.9 113.3 L220.15 113.9 L219.4 114.5 L218.7 115.12 L218.03 115.74 L217.38 116.36 L216.74 116.99 L216.11 117.61 L215.48 118.22 L214.85 118.82 L214.19 119.41 L213.52 119.97 L212.84 120.5 L212.17 120.97 L211.52 121.4 L210.86 121.82 L210.19 122.24 L209.5 122.68 L208.78 123.16 L208.01 123.7 L207.19 124.31 L206.31 125.01 L205.36 125.8 L204.34 126.66 L203.27 127.57 L202.16 128.54 L201.02 129.55 L199.86 130.61 L198.68 131.69 L197.5 132.81 L196.33 133.94 L195.18 135.09 L194.01 136.31 L192.78 137.64 L191.53 139.04 L190.26 140.48 L189 141.93 L187.77 143.35 L186.59 144.71 L185.47 145.99 L184.45 147.15 L183.53 148.14 L182.75 148.97 L182.08 149.64 L181.52 150.18 L181.02 150.64 L180.57 151.04 L180.14 151.42 L179.69 151.8 L179.22 152.22 L178.68 152.72 L178.05 153.31 L177.36 154 L176.64 154.73 L175.89 155.5 L175.11 156.31 L174.31 157.13 L173.48 157.97 L172.63 158.82 L171.77 159.67 L170.88 160.51 L169.98 161.33 L169.04 162.16 L168.05 163.03 L167.02 163.92 L165.97 164.82 L164.9 165.71 L163.84 166.58 L162.79 167.4 L161.78 168.17 L160.8 168.86 L159.89 169.47 L159.03 169.98 L158.21 170.42 L157.42 170.8 L156.66 171.12 L155.93 171.4 L155.21 171.64 L154.5 171.85 L153.8 172.05 L153.1 172.24 L152.4 172.44 L151.71 172.63 L151.06 172.81 L150.42 172.97 L149.81 173.11 L149.19 173.23 L148.56 173.33 L147.92 173.4 L147.24 173.45 L146.53 173.48 L145.76 173.47 L144.94 173.43 L144.08 173.36 L143.17 173.26 L142.23 173.14 L141.28 172.99 L140.31 172.82 L139.35 172.64 L138.39 172.45 L137.45 172.25 L136.54 172.05 L135.68 171.86 L134.86 171.67 L134.08 171.48 L133.31 171.29 L132.54 171.07 L131.74 170.83 L130.89 170.56 L129.98 170.25 L128.99 169.89 L127.89 169.47 L126.68 168.97 L125.38 168.41 L123.99 167.78 L122.54 167.12 L121.04 166.42 L119.52 165.71 L117.98 165 L116.45 164.3 L114.94 163.63 L113.47 163 L112.03 162.41 L110.59 161.81 L109.15 161.23 L107.71 160.65 L106.27 160.08 L104.83 159.53 L103.38 158.98 L101.94 158.45 L100.5 157.94 L99.06 157.45 L97.62 156.97 L96.18 156.51 L94.74 156.06 L93.29 155.63 L91.85 155.21 L90.41 154.81 L88.97 154.41 L87.53 154.03 L86.09 153.67 L84.64 153.31 L83.14 152.96 L81.53 152.62 L79.87 152.28 L78.19 151.95 L76.54 151.63 L74.96 151.34 L73.49 151.07 L72.19 150.84 L71.09 150.63 L70.23 150.47" stroke="#b283df" stroke-width="1.35" fill="none" stroke-linejoin="round" stroke-linecap="round"/>
<path d="M70.23 155.12 L71.09 154.88 L72.19 154.56 L73.49 154.18 L74.96 153.76 L76.54 153.31 L78.19 152.83 L79.87 152.35 L81.53 151.87 L83.14 151.41 L84.64 150.99 L86.09 150.58 L87.53 150.16 L88.97 149.74 L90.41 149.31 L91.85 148.9 L93.29 148.48 L94.74 148.08 L96.18 147.7 L97.62 147.33 L99.06 146.98 L100.5 146.66 L101.94 146.35 L103.38 146.07 L104.83 145.8 L106.27 145.54 L107.71 145.28 L109.15 145.03 L110.59 144.78 L112.03 144.53 L113.47 144.27 L114.92 144 L116.36 143.73 L117.8 143.47 L119.24 143.2 L120.68 142.94 L122.12 142.67 L123.57 142.42 L125.01 142.17 L126.45 141.92 L127.89 141.68 L129.33 141.46 L130.77 141.27 L132.21 141.09 L133.66 140.91 L135.1 140.74 L136.54 140.56 L137.98 140.36 L139.42 140.15 L140.86 139.9 L142.31 139.62 L143.77 139.29 L145.28 138.94 L146.81 138.56 L148.35 138.17 L149.87 137.75 L151.37 137.32 L152.82 136.89 L154.21 136.46 L155.51 136.03 L156.72 135.61 L157.83 135.2 L158.86 134.8 L159.81 134.41 L160.71 134.02 L161.55 133.62 L162.35 133.2 L163.13 132.78 L163.88 132.33 L164.62 131.85 L165.37 131.35 L166.1 130.81 L166.81 130.24 L167.49 129.64 L168.15 129.03 L168.78 128.4 L169.4 127.75 L170 127.1 L170.58 126.45 L171.15 125.79 L171.71 125.14 L172.25 124.5 L172.77 123.85 L173.27 123.21 L173.76 122.55 L174.23 121.9 L174.68 121.23 L175.13 120.55 L175.58 119.86 L176.02 119.15 L176.47 118.42 L176.89 117.7 L177.28 117 L177.65 116.3 L178.01 115.6 L178.37 114.87 L178.74 114.11 L179.15 113.29 L179.59 112.42 L180.09 111.46 L180.65 110.41 L181.28 109.27 L181.96 108.04 L182.7 106.73 L183.47 105.37 L184.27 103.95 L185.09 102.49 L185.93 101 L186.77 99.49 L187.61 97.97 L188.43 96.46 L189.27 94.89 L190.14 93.24 L191.04 91.53 L191.95 89.79 L192.86 88.04 L193.75 86.31 L194.62 84.64 L195.45 83.04 L196.22 81.54 L196.94 80.17 L197.55 79 L198.07 78.01 L198.5 77.16 L198.9 76.4 L199.27 75.67 L199.67 74.91 L200.11 74.08 L200.62 73.13 L201.23 71.99 L201.98 70.61 L202.89 68.93 L203.95 66.97 L205.12 64.8 L206.37 62.49 L207.65 60.12 L208.95 57.76 L210.21 55.49 L211.4 53.38 L212.5 51.5 L213.46 49.94 L214.3 48.65 L215.06 47.55 L215.75 46.63 L216.39 45.84 L216.98 45.18 L217.53 44.61 L218.06 44.12 L218.57 43.67 L219.07 43.25 L219.57 42.83 L220.06 42.44 L220.51 42.14 L220.94 41.9 L221.35 41.73 L221.74 41.6 L222.11 41.52 L222.48 41.46 L222.85 41.43 L223.22 41.42 L223.61 41.41 L223.99 41.41 L224.38 41.45 L224.77 41.52 L225.15 41.61 L225.53 41.73 L225.91 41.87 L226.28 42.03 L226.65 42.2 L227 42.38 L227.35 42.57 L227.69 42.77 L228.03 42.99 L228.35 43.22 L228.67 43.47 L228.99 43.73 L229.3 44.01 L229.61 44.31 L229.91 44.62 L230.22 44.94 L230.52 45.28 L230.82 45.64 L231.11 46.02 L231.39 46.42 L231.66 46.83 L231.93 47.25 L232.21 47.69 L232.51 48.14 L232.81 48.6 L233.14 49.07 L233.49 49.55 L233.87 50.03 L234.27 50.53 L234.68 51.04 L235.1 51.56 L235.54 52.08 L235.99 52.62 L236.45 53.17 L236.92 53.72 L237.4 54.28 L237.88 54.85 L238.35 55.41 L238.83 55.97 L239.3 56.53 L239.79 57.09 L240.28 57.66 L240.79 58.26 L241.33 58.87 L241.89 59.52 L242.49 60.2 L243.12 60.92 L243.8 61.7 L244.52 62.53 L245.26 63.41 L246.04 64.33 L246.84 65.26 L247.66 66.19 L248.48 67.12 L249.32 68.02 L250.16 68.89 L250.99 69.71 L251.83 70.49 L252.69 71.25 L253.56 72 L254.44 72.73 L255.32 73.45 L256.21 74.14 L257.1 74.81 L257.99 75.46 L258.88 76.08 L259.76 76.68 L260.63 77.26 L261.51 77.79 L262.38 78.3 L263.25 78.79 L264.13 79.26 L265 79.71 L265.87 80.16 L266.75 80.59 L267.62 81.03 L268.49 81.47 L269.37 81.9 L270.26 82.34 L271.15 82.77 L272.05 83.19 L272.94 83.61 L273.82 84.01 L274.7 84.4 L275.56 84.77 L276.41 85.13 L277.23 85.47 L278.02 85.79 L278.78 86.09 L279.52 86.37 L280.25 86.63 L280.96 86.89 L281.68 87.13 L282.41 87.36 L283.15 87.6 L283.92 87.82 L284.73 88.06 L285.57 88.29 L286.45 88.51 L287.35 88.73 L288.28 88.94 L289.21 89.15 L290.14 89.35 L291.06 89.55 L291.96 89.74 L292.83 89.93 L293.66 90.12 L294.49 90.31 L295.33 90.51 L296.18 90.71 L297.02 90.9 L297.82 91.09 L298.59 91.27 L299.29 91.44 L299.92 91.58 L300.45 91.71 L300.87 91.8 L300.64 91.96 L300.37 92.17 L300.07 92.42 L299.73 92.7 L299.34 93 L298.9 93.3 L298.4 93.61 L297.85 93.9 L297.23 94.16 L296.55 94.39 L295.79 94.58 L294.97 94.75 L294.08 94.91 L293.13 95.05 L292.13 95.19 L291.08 95.32 L289.98 95.46 L288.84 95.6 L287.67 95.76 L286.45 95.94 L285.19 96.13 L283.85 96.34 L282.45 96.55 L281 96.77 L279.52 97 L278.01 97.23 L276.5 97.46 L274.99 97.69 L273.5 97.91 L272.04 98.14 L270.6 98.35 L269.16 98.57 L267.72 98.78 L266.27 99 L264.83 99.21 L263.39 99.43 L261.95 99.64 L260.51 99.87 L259.07 100.1 L257.62 100.33 L256.18 100.57 L254.74 100.8 L253.3 101.04 L251.86 101.28 L250.42 101.52 L248.98 101.77 L247.53 102.03 L246.09 102.31 L244.65 102.6 L243.21 102.92 L241.74 103.24 L240.23 103.58 L238.7 103.92 L237.17 104.28 L235.64 104.65 L234.15 105.04 L232.7 105.45 L231.31 105.87 L230 106.32 L228.8 106.79 L227.69 107.29 L226.66 107.81 L225.71 108.35 L224.82 108.92 L223.98 109.5 L223.18 110.1 L222.41 110.71 L221.65 111.33 L220.9 111.97 L220.15 112.61 L219.4 113.27 L218.69 113.97 L218.01 114.69 L217.35 115.42 L216.7 116.16 L216.07 116.9 L215.44 117.64 L214.81 118.36 L214.17 119.05 L213.52 119.72 L212.85 120.33 L212.19 120.9 L211.53 121.44 L210.86 121.95 L210.2 122.47 L209.54 123 L208.88 123.55 L208.21 124.15 L207.55 124.8 L206.88 125.53 L206.22 126.32 L205.55 127.15 L204.89 128.01 L204.22 128.92 L203.55 129.86 L202.89 130.84 L202.22 131.85 L201.55 132.9 L200.89 133.98 L200.22 135.09 L199.56 136.24 L198.91 137.43 L198.26 138.65 L197.61 139.91 L196.96 141.21 L196.3 142.53 L195.65 143.89 L194.98 145.28 L194.31 146.7 L193.62 148.14 L192.92 149.64 L192.22 151.18 L191.5 152.78 L190.77 154.41 L190.04 156.06 L189.31 157.72 L188.58 159.39 L187.85 161.05 L187.13 162.69 L186.41 164.3 L185.71 165.89 L185.01 167.5 L184.32 169.12 L183.63 170.73 L182.94 172.33 L182.25 173.91 L181.56 175.47 L180.87 177 L180.19 178.49 L179.5 179.93 L178.8 181.35 L178.11 182.77 L177.41 184.17 L176.71 185.54 L176.02 186.88 L175.32 188.17 L174.63 189.41 L173.94 190.59 L173.26 191.7 L172.58 192.73 L171.9 193.67 L171.22 194.56 L170.54 195.38 L169.86 196.14 L169.19 196.85 L168.52 197.49 L167.86 198.09 L167.21 198.63 L166.57 199.13 L165.95 199.57 L165.34 199.97 L164.75 200.31 L164.17 200.6 L163.6 200.83 L163.04 201.01 L162.49 201.15 L161.92 201.24 L161.36 201.28 L160.78 201.29 L160.18 201.25 L159.58 201.2 L158.98 201.12 L158.39 201 L157.79 200.85 L157.19 200.65 L156.57 200.39 L155.93 200.05 L155.26 199.64 L154.57 199.14 L153.84 198.54 L153.07 197.82 L152.25 196.96 L151.41 196 L150.54 194.95 L149.66 193.85 L148.76 192.7 L147.86 191.54 L146.95 190.39 L146.06 189.27 L145.19 188.2 L144.32 187.16 L143.46 186.09 L142.59 185.02 L141.73 183.94 L140.86 182.86 L140 181.81 L139.13 180.77 L138.27 179.76 L137.4 178.79 L136.54 177.87 L135.7 176.99 L134.9 176.17 L134.13 175.39 L133.36 174.63 L132.57 173.9 L131.76 173.18 L130.91 172.46 L129.99 171.74 L128.99 171 L127.89 170.24 L126.68 169.45 L125.38 168.65 L123.99 167.83 L122.54 167 L121.04 166.18 L119.52 165.37 L117.98 164.57 L116.45 163.8 L114.94 163.06 L113.47 162.36 L112.03 161.68 L110.59 161.02 L109.15 160.37 L107.71 159.74 L106.27 159.14 L104.83 158.56 L103.38 158.02 L101.94 157.53 L100.5 157.07 L99.06 156.67 L97.62 156.33 L96.18 156.03 L94.74 155.78 L93.29 155.57 L91.85 155.4 L90.41 155.25 L88.97 155.13 L87.53 155.03 L86.09 154.94 L84.64 154.86 L83.14 154.81 L81.53 154.79 L79.87 154.8 L78.19 154.83 L76.54 154.88 L74.96 154.94 L73.49 155 L72.19 155.05 L71.09 155.1 L70.23 155.12" stroke="#c8a125" stroke-width="1.35" fill="none" stroke-linejoin="round" stroke-linecap="round"/>
<path d="M41.4 238.6 v-2 M44.28 238.6 v-2 M47.17 238.6 v-2 M50.05 238.6 v-2 M52.93 238.6 v-2 M55.81 238.6 v-2 M58.7 238.6 v-2 M61.58 238.6 v-2 M64.46 238.6 v-2 M67.35 238.6 v-2 M70.23 238.6 v-2 M73.11 238.6 v-2 M76 238.6 v-2 M78.88 238.6 v-2 M81.76 238.6 v-2 M84.64 238.6 v-2 M87.53 238.6 v-2 M90.41 238.6 v-2 M93.29 238.6 v-2 M96.18 238.6 v-2 M99.06 238.6 v-2 M101.94 238.6 v-2 M104.83 238.6 v-2 M107.71 238.6 v-2 M110.59 238.6 v-2 M113.47 238.6 v-2 M116.36 238.6 v-2 M119.24 238.6 v-2 M122.12 238.6 v-2 M125.01 238.6 v-2 M127.89 238.6 v-2 M130.77 238.6 v-2 M133.66 238.6 v-2 M136.54 238.6 v-2 M139.42 238.6 v-2 M142.31 238.6 v-2 M145.19 238.6 v-2 M148.07 238.6 v-2 M150.95 238.6 v-2 M153.84 238.6 v-2 M156.72 238.6 v-2 M159.6 238.6 v-2 M162.49 238.6 v-2 M165.37 238.6 v-2 M168.25 238.6 v-2 M171.14 238.6 v-2 M174.02 238.6 v-2 M176.9 238.6 v-2 M179.78 238.6 v-2 M182.67 238.6 v-2 M185.55 238.6 v-2 M188.43 238.6 v-2 M191.32 238.6 v-2 M194.2 238.6 v-2 M197.08 238.6 v-2 M199.97 238.6 v-2 M202.85 238.6 v-2 M205.73 238.6 v-2 M208.61 238.6 v-2 M211.5 238.6 v-2 M214.38 238.6 v-2 M217.26 238.6 v-2 M220.15 238.6 v-2 M223.03 238.6 v-2 M225.91 238.6 v-2 M228.8 238.6 v-2 M231.68 238.6 v-2 M234.56 238.6 v-2 M237.44 238.6 v-2 M240.33 238.6 v-2 M243.21 238.6 v-2 M246.09 238.6 v-2 M248.98 238.6 v-2 M251.86 238.6 v-2 M254.74 238.6 v-2 M257.62 238.6 v-2 M260.51 238.6 v-2 M263.39 238.6 v-2 M266.27 238.6 v-2 M269.16 238.6 v-2 M272.04 238.6 v-2 M274.92 238.6 v-2 M277.81 238.6 v-2 M280.69 238.6 v-2 M283.57 238.6 v-2 M286.45 238.6 v-2 M289.34 238.6 v-2 M292.22 238.6 v-2 M295.1 238.6 v-2 M297.99 238.6 v-2 M300.87 238.6 v-2 M303.75 238.6 v-2 M306.64 238.6 v-2 M309.52 238.6 v-2 M312.4 238.6 v-2 M315.28 238.6 v-2 M318.17 238.6 v-2 M321.05 238.6 v-2 M323.93 238.6 v-2 M326.82 238.6 v-2 M329.7 238.6 v-2 M41.4 238.6 h1.7 M41.4 236.02 h1.7 M41.4 233.43 h1.7 M41.4 230.85 h1.7 M41.4 228.26 h1.7 M41.4 225.68 h1.7 M41.4 223.09 h1.7 M41.4 220.51 h1.7 M41.4 217.92 h1.7 M41.4 215.34 h1.7 M41.4 212.76 h1.7 M41.4 210.17 h1.7 M41.4 207.59 h1.7 M41.4 205 h1.7 M41.4 202.42 h1.7 M41.4 199.83 h1.7 M41.4 197.25 h1.7 M41.4 194.66 h1.7 M41.4 192.08 h1.7 M41.4 189.5 h1.7 M41.4 186.91 h1.7 M41.4 184.33 h1.7 M41.4 181.74 h1.7 M41.4 179.16 h1.7 M41.4 176.57 h1.7 M41.4 173.99 h1.7 M41.4 171.4 h1.7 M41.4 168.82 h1.7 M41.4 166.24 h1.7 M41.4 163.65 h1.7 M41.4 161.07 h1.7 M41.4 158.48 h1.7 M41.4 155.9 h1.7 M41.4 153.31 h1.7 M41.4 150.73 h1.7 M41.4 148.14 h1.7 M41.4 145.56 h1.7 M41.4 142.98 h1.7 M41.4 140.39 h1.7 M41.4 137.81 h1.7 M41.4 135.22 h1.7 M41.4 132.64 h1.7 M41.4 130.05 h1.7 M41.4 127.47 h1.7 M41.4 124.88 h1.7 M41.4 122.3 h1.7 M41.4 119.72 h1.7 M41.4 117.13 h1.7 M41.4 114.55 h1.7 M41.4 111.96 h1.7 M41.4 109.38 h1.7 M41.4 106.79 h1.7 M41.4 104.21 h1.7 M41.4 101.62 h1.7 M41.4 99.04 h1.7 M41.4 96.46 h1.7 M41.4 93.87 h1.7 M41.4 91.29 h1.7 M41.4 88.7 h1.7 M41.4 86.12 h1.7 M41.4 83.53 h1.7 M41.4 80.95 h1.7 M41.4 78.36 h1.7 M41.4 75.78 h1.7 M41.4 73.2 h1.7 M41.4 70.61 h1.7 M41.4 68.03 h1.7 M41.4 65.44 h1.7 M41.4 62.86 h1.7 M41.4 60.27 h1.7 M41.4 57.69 h1.7 M41.4 55.1 h1.7 M41.4 52.52 h1.7 M41.4 49.94 h1.7 M41.4 47.35 h1.7 M41.4 44.77 h1.7 M41.4 42.18 h1.7 M41.4 39.6 h1.7 M41.4 37.01 h1.7 M41.4 34.43 h1.7 M41.4 31.84 h1.7 M41.4 29.26 h1.7 M41.4 26.68 h1.7 M41.4 24.09 h1.7 M41.4 21.51 h1.7 M41.4 18.92 h1.7 M41.4 16.34 h1.7 M41.4 13.75 h1.7 M41.4 11.17 h1.7 M41.4 8.58 h1.7 M41.4 6 h1.7" stroke="#1c1c1c" stroke-width="1.0" fill="none"/>
<path d="M41.4 6 v1.7 M44.28 6 v1.7 M47.17 6 v1.7 M50.05 6 v1.7 M52.93 6 v1.7 M55.81 6 v1.7 M58.7 6 v1.7 M61.58 6 v1.7 M64.46 6 v1.7 M67.35 6 v1.7 M70.23 6 v1.7 M73.11 6 v1.7 M76 6 v1.7 M78.88 6 v1.7 M81.76 6 v1.7 M84.64 6 v1.7 M87.53 6 v1.7 M90.41 6 v1.7 M93.29 6 v1.7 M96.18 6 v1.7 M99.06 6 v1.7 M101.94 6 v1.7 M104.83 6 v1.7 M107.71 6 v1.7 M110.59 6 v1.7 M113.47 6 v1.7 M116.36 6 v1.7 M119.24 6 v1.7 M122.12 6 v1.7 M125.01 6 v1.7 M127.89 6 v1.7 M130.77 6 v1.7 M133.66 6 v1.7 M136.54 6 v1.7 M139.42 6 v1.7 M142.31 6 v1.7 M145.19 6 v1.7 M148.07 6 v1.7 M150.95 6 v1.7 M153.84 6 v1.7 M156.72 6 v1.7 M159.6 6 v1.7 M162.49 6 v1.7 M165.37 6 v1.7 M168.25 6 v1.7 M171.14 6 v1.7 M174.02 6 v1.7 M176.9 6 v1.7 M179.78 6 v1.7 M182.67 6 v1.7 M185.55 6 v1.7 M188.43 6 v1.7 M191.32 6 v1.7 M194.2 6 v1.7 M197.08 6 v1.7 M199.97 6 v1.7 M202.85 6 v1.7 M205.73 6 v1.7 M208.61 6 v1.7 M211.5 6 v1.7 M214.38 6 v1.7 M217.26 6 v1.7 M220.15 6 v1.7 M223.03 6 v1.7 M225.91 6 v1.7 M228.8 6 v1.7 M231.68 6 v1.7 M234.56 6 v1.7 M237.44 6 v1.7 M240.33 6 v1.7 M243.21 6 v1.7 M246.09 6 v1.7 M248.98 6 v1.7 M251.86 6 v1.7 M254.74 6 v1.7 M257.62 6 v1.7 M260.51 6 v1.7 M263.39 6 v1.7 M266.27 6 v1.7 M269.16 6 v1.7 M272.04 6 v1.7 M274.92 6 v1.7 M277.81 6 v1.7 M280.69 6 v1.7 M283.57 6 v1.7 M286.45 6 v1.7 M289.34 6 v1.7 M292.22 6 v1.7 M295.1 6 v1.7 M297.99 6 v1.7 M300.87 6 v1.7 M303.75 6 v1.7 M306.64 6 v1.7 M309.52 6 v1.7 M312.4 6 v1.7 M315.28 6 v1.7 M318.17 6 v1.7 M321.05 6 v1.7 M323.93 6 v1.7 M326.82 6 v1.7 M329.7 6 v1.7 M329.7 238.6 h-1.7 M329.7 236.02 h-1.7 M329.7 233.43 h-1.7 M329.7 230.85 h-1.7 M329.7 228.26 h-1.7 M329.7 225.68 h-1.7 M329.7 223.09 h-1.7 M329.7 220.51 h-1.7 M329.7 217.92 h-1.7 M329.7 215.34 h-1.7 M329.7 212.76 h-1.7 M329.7 210.17 h-1.7 M329.7 207.59 h-1.7 M329.7 205 h-1.7 M329.7 202.42 h-1.7 M329.7 199.83 h-1.7 M329.7 197.25 h-1.7 M329.7 194.66 h-1.7 M329.7 192.08 h-1.7 M329.7 189.5 h-1.7 M329.7 186.91 h-1.7 M329.7 184.33 h-1.7 M329.7 181.74 h-1.7 M329.7 179.16 h-1.7 M329.7 176.57 h-1.7 M329.7 173.99 h-1.7 M329.7 171.4 h-1.7 M329.7 168.82 h-1.7 M329.7 166.24 h-1.7 M329.7 163.65 h-1.7 M329.7 161.07 h-1.7 M329.7 158.48 h-1.7 M329.7 155.9 h-1.7 M329.7 153.31 h-1.7 M329.7 150.73 h-1.7 M329.7 148.14 h-1.7 M329.7 145.56 h-1.7 M329.7 142.98 h-1.7 M329.7 140.39 h-1.7 M329.7 137.81 h-1.7 M329.7 135.22 h-1.7 M329.7 132.64 h-1.7 M329.7 130.05 h-1.7 M329.7 127.47 h-1.7 M329.7 124.88 h-1.7 M329.7 122.3 h-1.7 M329.7 119.72 h-1.7 M329.7 117.13 h-1.7 M329.7 114.55 h-1.7 M329.7 111.96 h-1.7 M329.7 109.38 h-1.7 M329.7 106.79 h-1.7 M329.7 104.21 h-1.7 M329.7 101.62 h-1.7 M329.7 99.04 h-1.7 M329.7 96.46 h-1.7 M329.7 93.87 h-1.7 M329.7 91.29 h-1.7 M329.7 88.7 h-1.7 M329.7 86.12 h-1.7 M329.7 83.53 h-1.7 M329.7 80.95 h-1.7 M329.7 78.36 h-1.7 M329.7 75.78 h-1.7 M329.7 73.2 h-1.7 M329.7 70.61 h-1.7 M329.7 68.03 h-1.7 M329.7 65.44 h-1.7 M329.7 62.86 h-1.7 M329.7 60.27 h-1.7 M329.7 57.69 h-1.7 M329.7 55.1 h-1.7 M329.7 52.52 h-1.7 M329.7 49.94 h-1.7 M329.7 47.35 h-1.7 M329.7 44.77 h-1.7 M329.7 42.18 h-1.7 M329.7 39.6 h-1.7 M329.7 37.01 h-1.7 M329.7 34.43 h-1.7 M329.7 31.84 h-1.7 M329.7 29.26 h-1.7 M329.7 26.68 h-1.7 M329.7 24.09 h-1.7 M329.7 21.51 h-1.7 M329.7 18.92 h-1.7 M329.7 16.34 h-1.7 M329.7 13.75 h-1.7 M329.7 11.17 h-1.7 M329.7 8.58 h-1.7 M329.7 6 h-1.7" stroke="#2e2e2e" stroke-width="0.9" fill="none"/>
<path d="M41.4 238.6 v-3.9 M70.23 238.6 v-3.9 M99.06 238.6 v-3.9 M127.89 238.6 v-3.9 M156.72 238.6 v-3.9 M185.55 238.6 v-3.9 M214.38 238.6 v-3.9 M243.21 238.6 v-3.9 M272.04 238.6 v-3.9 M300.87 238.6 v-3.9 M329.7 238.6 v-3.9 M41.4 225.68 h2.92 M41.4 199.83 h2.92 M41.4 173.99 h2.92 M41.4 148.14 h2.92 M41.4 122.3 h2.92 M41.4 96.46 h2.92 M41.4 70.61 h2.92 M41.4 44.77 h2.92 M41.4 18.92 h2.92" stroke="#1c1c1c" stroke-width="1.15" fill="none"/>
<path d="M41.4 6 v3.31 M70.23 6 v3.31 M99.06 6 v3.31 M127.89 6 v3.31 M156.72 6 v3.31 M185.55 6 v3.31 M214.38 6 v3.31 M243.21 6 v3.31 M272.04 6 v3.31 M300.87 6 v3.31 M329.7 6 v3.31 M329.7 225.68 h-2.81 M329.7 199.83 h-2.81 M329.7 173.99 h-2.81 M329.7 148.14 h-2.81 M329.7 122.3 h-2.81 M329.7 96.46 h-2.81 M329.7 70.61 h-2.81 M329.7 44.77 h-2.81 M329.7 18.92 h-2.81" stroke="#2e2e2e" stroke-width="1.0" fill="none"/>
<path d="M41.4 6 H329.7 V238.6" fill="none" stroke="#2e2e2e" stroke-width="1" stroke-linecap="square"/>
<path d="M41.4 6 V238.6 H329.7" fill="none" stroke="#1c1c1c" stroke-width="1.55" stroke-linecap="square"/>
<text x="41.4" y="251.7" font-size="9.8" text-anchor="middle" textLength="21.19" lengthAdjust="spacingAndGlyphs" fill="#1f1f1f">−300</text>
<text x="70.23" y="251.7" font-size="9.8" text-anchor="middle" textLength="21.19" lengthAdjust="spacingAndGlyphs" fill="#1f1f1f">−200</text>
<text x="99.06" y="251.7" font-size="9.8" text-anchor="middle" textLength="21.19" lengthAdjust="spacingAndGlyphs" fill="#1f1f1f">−100</text>
<text x="127.89" y="251.7" font-size="9.8" text-anchor="middle" textLength="5.23" lengthAdjust="spacingAndGlyphs" fill="#1f1f1f">0</text>
<text x="156.72" y="251.7" font-size="9.8" text-anchor="middle" textLength="15.7" lengthAdjust="spacingAndGlyphs" fill="#1f1f1f">100</text>
<text x="185.55" y="251.7" font-size="9.8" text-anchor="middle" textLength="15.7" lengthAdjust="spacingAndGlyphs" fill="#1f1f1f">200</text>
<text x="214.38" y="251.7" font-size="9.8" text-anchor="middle" textLength="15.7" lengthAdjust="spacingAndGlyphs" fill="#1f1f1f">300</text>
<text x="243.21" y="251.7" font-size="9.8" text-anchor="middle" textLength="15.7" lengthAdjust="spacingAndGlyphs" fill="#1f1f1f">400</text>
<text x="272.04" y="251.7" font-size="9.8" text-anchor="middle" textLength="15.7" lengthAdjust="spacingAndGlyphs" fill="#1f1f1f">500</text>
<text x="300.87" y="251.7" font-size="9.8" text-anchor="middle" textLength="15.7" lengthAdjust="spacingAndGlyphs" fill="#1f1f1f">600</text>
<text x="329.7" y="251.7" font-size="9.8" text-anchor="middle" textLength="15.7" lengthAdjust="spacingAndGlyphs" fill="#1f1f1f">700</text>
<text x="38.2" y="229.21" font-size="9.8" text-anchor="end" textLength="21.19" lengthAdjust="spacingAndGlyphs" fill="#1f1f1f">−800</text>
<text x="38.2" y="203.36" font-size="9.8" text-anchor="end" textLength="21.19" lengthAdjust="spacingAndGlyphs" fill="#1f1f1f">−600</text>
<text x="38.2" y="177.52" font-size="9.8" text-anchor="end" textLength="21.19" lengthAdjust="spacingAndGlyphs" fill="#1f1f1f">−400</text>
<text x="38.2" y="151.67" font-size="9.8" text-anchor="end" textLength="21.19" lengthAdjust="spacingAndGlyphs" fill="#1f1f1f">−200</text>
<text x="38.2" y="125.83" font-size="9.8" text-anchor="end" textLength="5.23" lengthAdjust="spacingAndGlyphs" fill="#1f1f1f">0</text>
<text x="38.2" y="99.98" font-size="9.8" text-anchor="end" textLength="15.7" lengthAdjust="spacingAndGlyphs" fill="#1f1f1f">200</text>
<text x="38.2" y="74.14" font-size="9.8" text-anchor="end" textLength="15.7" lengthAdjust="spacingAndGlyphs" fill="#1f1f1f">400</text>
<text x="38.2" y="48.29" font-size="9.8" text-anchor="end" textLength="15.7" lengthAdjust="spacingAndGlyphs" fill="#1f1f1f">600</text>
<text x="38.2" y="22.45" font-size="9.8" text-anchor="end" textLength="15.7" lengthAdjust="spacingAndGlyphs" fill="#1f1f1f">800</text>
<rect x="49.4" y="14.8" width="131.2" height="63.4" fill="#fff" stroke="#6e6e6e" stroke-width="0.7"/>
<path d="M49.6 18.5 H67" stroke="#22e3ee" stroke-width="1.25"/>
<text x="69.2" y="20.7" font-size="7.75" fill="#1f1f1f" xml:space="preserve">Porous Au (Bare)</text>
<path d="M49.6 28.05 H67" stroke="#d9504f" stroke-width="1.25"/>
<text x="69.2" y="30.25" font-size="7.75" fill="#1f1f1f" xml:space="preserve">First Ab: 10 µg/mL</text>
<path d="M49.6 37.6 H67" stroke="#2f6dc6" stroke-width="1.25"/>
<text x="69.2" y="39.8" font-size="7.75" fill="#1f1f1f" xml:space="preserve">Block (Gelatine)</text>
<path d="M49.6 47.15 H67" stroke="#3ba36c" stroke-width="1.25"/>
<text x="69.2" y="49.35" font-size="7.75" fill="#1f1f1f" xml:space="preserve">rp-CP-TBRFV: 1pg/mL</text>
<path d="M49.6 56.7 H67" stroke="#b283df" stroke-width="1.25"/>
<text x="69.2" y="58.9" font-size="7.75" fill="#1f1f1f" xml:space="preserve">Ab-HRP: 0.42 µg/mL</text>
<path d="M49.6 66.25 H67" stroke="#c8a125" stroke-width="1.25"/>
<text x="69.2" y="68.45" font-size="7.75" fill="#1f1f1f">Ab-HRP+TMB+H<tspan font-size="4.65" dy="1.71">2</tspan><tspan dy="-1.71">O</tspan><tspan font-size="4.65" dy="1.71">2</tspan></text>
<text x="200.2" y="17.2" font-size="11.2" text-anchor="middle" fill="#1f1f1f">a</text>
<text transform="translate(185.6 269)" font-size="10.7" text-anchor="middle" textLength="133.2" lengthAdjust="spacingAndGlyphs" fill="#1f1f1f">Potential [mV] (vs. Ag/AgCl)</text>
<text transform="translate(10.3 122.4) rotate(-90)" font-size="10.7" text-anchor="middle" textLength="57.7" lengthAdjust="spacingAndGlyphs" fill="#1f1f1f">Current [µA]</text>
</g>
<g id="chart-b">
<path d="M422.58 10.1 V241.2 M460.3 10.1 V241.2 M498.03 10.1 V241.2 M535.75 10.1 V241.2 M573.47 10.1 V241.2 M611.2 10.1 V241.2 M648.92 10.1 V241.2 M392.4 221.94 H679.1 M392.4 183.42 H679.1 M392.4 144.91 H679.1 M392.4 106.39 H679.1 M392.4 67.88 H679.1 M392.4 29.36 H679.1" stroke="#ebebeb" stroke-width="0.9" fill="none"/>
<path d="M392.4 215.47 L393.22 215.58 L394.26 215.73 L395.48 215.91 L396.88 216.11 L398.42 216.32 L400.09 216.53 L401.86 216.74 L403.72 216.93 L405.71 217.13 L407.9 217.35 L410.24 217.57 L412.68 217.8 L415.17 218.01 L417.69 218.2 L420.17 218.36 L422.58 218.48 L424.99 218.55 L427.47 218.6 L429.98 218.62 L432.48 218.62 L434.92 218.6 L437.26 218.57 L439.44 218.52 L441.44 218.48 L443.24 218.42 L444.89 218.35 L446.4 218.26 L447.81 218.16 L449.12 218.06 L450.37 217.94 L451.58 217.82 L452.76 217.7 L453.88 217.59 L454.91 217.49 L455.86 217.38 L456.77 217.27 L457.64 217.14 L458.5 216.98 L459.39 216.79 L460.3 216.55 L461.25 216.28 L462.19 216 L463.13 215.7 L464.08 215.37 L465.02 214.99 L465.96 214.55 L466.9 214.05 L467.85 213.47 L468.79 212.83 L469.73 212.17 L470.68 211.45 L471.62 210.68 L472.56 209.81 L473.51 208.85 L474.45 207.76 L475.39 206.53 L476.34 205.17 L477.28 203.66 L478.22 202.05 L479.16 200.32 L480.11 198.51 L481.05 196.62 L481.99 194.67 L482.94 192.67 L483.86 190.65 L484.76 188.62 L485.65 186.55 L486.54 184.39 L487.46 182.11 L488.41 179.67 L489.41 177.04 L490.48 174.18 L491.64 171.1 L492.88 167.84 L494.17 164.4 L495.5 160.8 L496.84 157.04 L498.16 153.13 L499.45 149.08 L500.67 144.91 L501.81 140.54 L502.89 135.93 L503.93 131.14 L504.96 126.23 L505.99 121.24 L507.05 116.24 L508.16 111.27 L509.34 106.39 L510.61 101.45 L511.95 96.31 L513.33 91.1 L514.74 85.93 L516.16 80.91 L517.57 76.15 L518.95 71.77 L520.28 67.88 L521.59 64.45 L522.91 61.38 L524.23 58.63 L525.52 56.18 L526.77 53.98 L527.96 52 L529.07 50.23 L530.09 48.62 L531 47.25 L531.8 46.21 L532.52 45.42 L533.18 44.83 L533.81 44.38 L534.43 44 L535.07 43.63 L535.75 43.22 L536.46 42.8 L537.16 42.43 L537.87 42.11 L538.58 41.85 L539.29 41.64 L539.99 41.49 L540.7 41.41 L541.41 41.38 L542.1 41.39 L542.78 41.44 L543.45 41.54 L544.12 41.7 L544.81 41.94 L545.52 42.26 L546.27 42.69 L547.07 43.22 L547.91 43.84 L548.8 44.52 L549.73 45.28 L550.67 46.13 L551.64 47.1 L552.63 48.21 L553.62 49.48 L554.61 50.93 L555.64 52.62 L556.73 54.57 L557.85 56.71 L558.97 58.97 L560.07 61.28 L561.11 63.58 L562.07 65.8 L562.91 67.88 L563.64 69.84 L564.28 71.77 L564.84 73.67 L565.34 75.53 L565.8 77.35 L566.23 79.12 L566.64 80.85 L567.06 82.51 L567.46 84.1 L567.83 85.6 L568.16 87.04 L568.48 88.43 L568.78 89.81 L569.08 91.2 L569.38 92.61 L569.7 94.07 L570.03 95.52 L570.34 96.93 L570.66 98.33 L570.97 99.75 L571.3 101.23 L571.63 102.8 L571.98 104.51 L572.34 106.39 L572.73 108.47 L573.14 110.72 L573.56 113.11 L573.99 115.59 L574.43 118.12 L574.87 120.67 L575.31 123.2 L575.74 125.65 L576.16 128.06 L576.58 130.46 L577 132.87 L577.42 135.28 L577.85 137.69 L578.27 140.09 L578.7 142.5 L579.13 144.91 L579.57 147.32 L580.01 149.72 L580.45 152.13 L580.9 154.54 L581.35 156.94 L581.8 159.35 L582.26 161.76 L582.72 164.17 L583.18 166.62 L583.65 169.13 L584.13 171.66 L584.6 174.18 L585.08 176.65 L585.55 179.04 L586.02 181.31 L586.49 183.42 L586.94 185.39 L587.38 187.24 L587.82 188.99 L588.26 190.65 L588.7 192.22 L589.14 193.72 L589.6 195.15 L590.07 196.52 L590.56 197.82 L591.05 199.04 L591.55 200.17 L592.06 201.24 L592.59 202.25 L593.12 203.2 L593.66 204.11 L594.22 204.99 L594.79 205.83 L595.36 206.6 L595.94 207.33 L596.53 208 L597.14 208.64 L597.78 209.25 L598.44 209.83 L599.13 210.39 L599.86 210.93 L600.64 211.44 L601.45 211.92 L602.29 212.37 L603.12 212.78 L603.95 213.17 L604.76 213.53 L605.54 213.85 L606.26 214.13 L606.93 214.37 L607.57 214.56 L608.2 214.72 L608.86 214.87 L609.56 215.01 L610.33 215.16 L611.2 215.32 L612.14 215.48 L613.12 215.64 L614.14 215.8 L615.23 215.95 L616.38 216.1 L617.59 216.25 L618.88 216.4 L620.25 216.55 L621.72 216.7 L623.29 216.86 L624.95 217.02 L626.66 217.18 L628.43 217.33 L630.22 217.47 L632.03 217.6 L633.83 217.7 L635.65 217.79 L637.5 217.86 L639.38 217.91 L641.28 217.95 L643.2 217.98 L645.11 218.01 L647.02 218.05 L648.92 218.09 L650.81 218.14 L652.69 218.19 L654.58 218.23 L656.47 218.28 L658.35 218.33 L660.24 218.38 L662.12 218.43 L664.01 218.48 L666 218.53 L668.14 218.58 L670.33 218.64 L672.5 218.69 L674.55 218.74 L676.39 218.79 L677.94 218.83 L679.1 218.86" stroke="#22e3ee" stroke-width="1.25" fill="none" stroke-linejoin="round" stroke-linecap="round"/>
<path d="M392.4 216.7 L393.22 216.78 L394.26 216.88 L395.48 217 L396.88 217.13 L398.42 217.27 L400.09 217.42 L401.86 217.57 L403.72 217.7 L405.71 217.86 L407.9 218.03 L410.24 218.21 L412.68 218.39 L415.17 218.56 L417.69 218.7 L420.17 218.81 L422.58 218.86 L424.99 218.86 L427.47 218.8 L429.98 218.71 L432.48 218.6 L434.92 218.46 L437.26 218.33 L439.44 218.2 L441.44 218.09 L443.24 218 L444.89 217.91 L446.4 217.82 L447.81 217.73 L449.12 217.64 L450.37 217.54 L451.58 217.43 L452.76 217.32 L453.88 217.2 L454.91 217.09 L455.86 216.98 L456.77 216.86 L457.64 216.73 L458.5 216.57 L459.39 216.38 L460.3 216.16 L461.25 215.93 L462.19 215.7 L463.13 215.45 L464.08 215.18 L465.02 214.86 L465.96 214.48 L466.9 214.02 L467.85 213.47 L468.79 212.84 L469.73 212.16 L470.68 211.42 L471.62 210.6 L472.56 209.72 L473.51 208.75 L474.45 207.69 L475.39 206.53 L476.35 205.24 L477.34 203.8 L478.34 202.24 L479.33 200.61 L480.3 198.96 L481.24 197.31 L482.12 195.71 L482.94 194.21 L483.67 192.82 L484.31 191.51 L484.9 190.26 L485.46 189.01 L486.01 187.74 L486.57 186.41 L487.17 184.98 L487.84 183.42 L488.56 181.77 L489.29 180.08 L490.05 178.32 L490.84 176.49 L491.64 174.56 L492.48 172.52 L493.35 170.34 L494.25 168.02 L495.19 165.6 L496.17 163.14 L497.18 160.59 L498.21 157.91 L499.28 155.04 L500.35 151.95 L501.45 148.59 L502.55 144.91 L503.7 140.73 L504.89 136 L506.12 130.92 L507.36 125.65 L508.59 120.38 L509.79 115.3 L510.92 110.57 L511.98 106.39 L512.95 102.7 L513.85 99.3 L514.69 96.16 L515.5 93.25 L516.29 90.54 L517.09 87.99 L517.91 85.59 L518.77 83.28 L519.68 81.11 L520.61 79.11 L521.55 77.28 L522.5 75.6 L523.46 74.06 L524.42 72.66 L525.37 71.37 L526.32 70.19 L527.27 69.15 L528.22 68.28 L529.17 67.55 L530.12 66.94 L531.07 66.42 L532.01 65.97 L532.95 65.57 L533.86 65.18 L534.77 64.83 L535.67 64.56 L536.57 64.34 L537.46 64.19 L538.33 64.09 L539.2 64.03 L540.05 64.01 L540.88 64.02 L541.68 64.06 L542.45 64.11 L543.2 64.2 L543.94 64.34 L544.68 64.53 L545.44 64.79 L546.23 65.13 L547.07 65.56 L547.96 66.1 L548.9 66.74 L549.88 67.47 L550.87 68.26 L551.86 69.1 L552.83 69.97 L553.75 70.85 L554.61 71.73 L555.41 72.59 L556.16 73.47 L556.87 74.37 L557.56 75.29 L558.23 76.25 L558.9 77.25 L559.58 78.31 L560.27 79.43 L560.99 80.65 L561.74 81.98 L562.49 83.38 L563.24 84.82 L563.97 86.26 L564.67 87.66 L565.33 88.99 L565.93 90.21 L566.46 91.32 L566.95 92.34 L567.38 93.3 L567.79 94.21 L568.18 95.11 L568.55 96.01 L568.93 96.94 L569.32 97.92 L569.71 98.87 L570.08 99.73 L570.44 100.57 L570.8 101.43 L571.16 102.39 L571.53 103.5 L571.92 104.81 L572.34 106.39 L572.8 108.28 L573.28 110.45 L573.78 112.82 L574.3 115.35 L574.81 117.95 L575.33 120.58 L575.83 123.17 L576.3 125.65 L576.76 128.06 L577.19 130.46 L577.62 132.87 L578.03 135.28 L578.45 137.69 L578.87 140.09 L579.3 142.5 L579.74 144.91 L580.19 147.32 L580.65 149.72 L581.11 152.13 L581.58 154.54 L582.05 156.94 L582.52 159.35 L583 161.76 L583.47 164.17 L583.95 166.62 L584.43 169.13 L584.92 171.66 L585.41 174.18 L585.9 176.65 L586.38 179.04 L586.85 181.31 L587.32 183.42 L587.77 185.39 L588.2 187.25 L588.63 189.01 L589.05 190.67 L589.48 192.25 L589.91 193.74 L590.36 195.17 L590.83 196.52 L591.31 197.79 L591.8 198.96 L592.3 200.04 L592.81 201.05 L593.34 201.99 L593.87 202.89 L594.42 203.76 L594.98 204.61 L595.55 205.43 L596.13 206.2 L596.73 206.93 L597.33 207.62 L597.95 208.27 L598.58 208.88 L599.23 209.46 L599.88 210 L600.55 210.51 L601.24 210.97 L601.95 211.4 L602.66 211.79 L603.38 212.15 L604.11 212.48 L604.83 212.79 L605.54 213.08 L606.22 213.34 L606.87 213.56 L607.51 213.75 L608.16 213.91 L608.83 214.06 L609.54 214.21 L610.33 214.37 L611.2 214.55 L612.14 214.74 L613.12 214.93 L614.14 215.13 L615.23 215.33 L616.38 215.53 L617.59 215.72 L618.88 215.91 L620.25 216.09 L621.72 216.26 L623.29 216.43 L624.95 216.6 L626.66 216.77 L628.43 216.92 L630.22 217.07 L632.03 217.2 L633.83 217.32 L635.67 217.43 L637.59 217.54 L639.55 217.64 L641.52 217.72 L643.47 217.79 L645.38 217.84 L647.21 217.87 L648.92 217.86 L650.53 217.81 L652.06 217.72 L653.52 217.59 L654.93 217.45 L656.3 217.3 L657.63 217.16 L658.94 217.03 L660.24 216.93 L661.51 216.86 L662.73 216.8 L663.91 216.75 L665.07 216.71 L666.22 216.68 L667.36 216.65 L668.5 216.63 L669.67 216.63 L670.91 216.63 L672.25 216.65 L673.62 216.68 L674.97 216.72 L676.25 216.76 L677.41 216.8 L678.37 216.84 L679.1 216.86" stroke="#d9504f" stroke-width="1.25" fill="none" stroke-linejoin="round" stroke-linecap="round"/>
<path d="M392.4 211.7 L393.22 211.93 L394.26 212.24 L395.48 212.61 L396.88 213.02 L398.42 213.44 L400.09 213.87 L401.86 214.27 L403.72 214.62 L405.71 214.96 L407.9 215.31 L410.24 215.65 L412.68 215.99 L415.17 216.29 L417.69 216.56 L420.17 216.78 L422.58 216.93 L424.99 217.02 L427.47 217.04 L429.98 217 L432.48 216.93 L434.92 216.84 L437.26 216.74 L439.44 216.63 L441.44 216.55 L443.24 216.47 L444.89 216.39 L446.4 216.3 L447.81 216.21 L449.12 216.11 L450.37 216 L451.58 215.89 L452.76 215.78 L453.88 215.67 L454.91 215.57 L455.86 215.47 L456.77 215.36 L457.64 215.24 L458.5 215.1 L459.39 214.92 L460.3 214.7 L461.25 214.46 L462.19 214.22 L463.13 213.97 L464.08 213.68 L465.02 213.35 L465.96 212.95 L466.9 212.48 L467.85 211.93 L468.79 211.29 L469.73 210.58 L470.68 209.8 L471.62 208.96 L472.56 208.06 L473.51 207.1 L474.45 206.07 L475.39 204.99 L476.35 203.83 L477.32 202.57 L478.3 201.23 L479.28 199.84 L480.25 198.42 L481.18 197 L482.08 195.58 L482.94 194.21 L483.72 192.89 L484.44 191.62 L485.11 190.37 L485.77 189.11 L486.42 187.81 L487.09 186.45 L487.81 184.99 L488.6 183.42 L489.44 181.77 L490.32 180.08 L491.24 178.32 L492.18 176.49 L493.15 174.56 L494.13 172.52 L495.13 170.34 L496.14 168.02 L497.19 165.47 L498.28 162.69 L499.41 159.75 L500.55 156.7 L501.68 153.63 L502.78 150.6 L503.83 147.67 L504.82 144.91 L505.73 142.32 L506.6 139.82 L507.42 137.4 L508.21 135.04 L508.98 132.7 L509.73 130.37 L510.48 128.03 L511.23 125.65 L511.96 123.22 L512.65 120.75 L513.32 118.26 L513.99 115.78 L514.66 113.33 L515.36 110.94 L516.1 108.61 L516.89 106.39 L517.73 104.23 L518.6 102.08 L519.5 99.98 L520.42 97.94 L521.38 96 L522.37 94.18 L523.39 92.5 L524.43 90.98 L525.53 89.65 L526.7 88.46 L527.91 87.41 L529.15 86.48 L530.38 85.66 L531.59 84.93 L532.76 84.27 L533.86 83.67 L534.9 83.14 L535.88 82.72 L536.83 82.38 L537.75 82.13 L538.66 81.94 L539.57 81.83 L540.48 81.76 L541.41 81.74 L542.35 81.77 L543.3 81.85 L544.25 81.99 L545.2 82.2 L546.15 82.47 L547.09 82.8 L548.03 83.2 L548.95 83.67 L549.86 84.19 L550.76 84.77 L551.65 85.41 L552.54 86.12 L553.42 86.91 L554.31 87.78 L555.21 88.75 L556.12 89.83 L557.07 91.07 L558.06 92.51 L559.07 94.07 L560.08 95.7 L561.07 97.35 L562.01 98.95 L562.88 100.44 L563.67 101.77 L564.35 102.92 L564.96 103.96 L565.5 104.9 L566 105.79 L566.46 106.66 L566.91 107.54 L567.36 108.47 L567.82 109.47 L568.27 110.52 L568.7 111.57 L569.11 112.62 L569.51 113.71 L569.91 114.84 L570.33 116.04 L570.75 117.33 L571.21 118.72 L571.7 120.23 L572.2 121.88 L572.73 123.61 L573.26 125.41 L573.8 127.24 L574.33 129.06 L574.85 130.86 L575.36 132.58 L575.85 134.22 L576.33 135.78 L576.79 137.31 L577.26 138.84 L577.72 140.41 L578.18 142.04 L578.65 143.79 L579.13 145.68 L579.62 147.73 L580.11 149.9 L580.6 152.18 L581.1 154.54 L581.59 156.94 L582.09 159.36 L582.59 161.78 L583.09 164.17 L583.6 166.58 L584.1 169.07 L584.62 171.6 L585.13 174.13 L585.64 176.62 L586.14 179.03 L586.64 181.31 L587.13 183.42 L587.6 185.39 L588.07 187.25 L588.52 189.01 L588.97 190.67 L589.42 192.25 L589.88 193.74 L590.35 195.17 L590.83 196.52 L591.32 197.79 L591.81 198.96 L592.32 200.04 L592.83 201.05 L593.34 201.99 L593.88 202.89 L594.42 203.76 L594.98 204.61 L595.55 205.43 L596.13 206.2 L596.73 206.93 L597.33 207.62 L597.95 208.27 L598.58 208.88 L599.23 209.46 L599.88 210 L600.55 210.51 L601.24 210.97 L601.95 211.4 L602.66 211.79 L603.38 212.15 L604.11 212.48 L604.83 212.79 L605.54 213.08 L606.22 213.34 L606.87 213.56 L607.51 213.75 L608.16 213.91 L608.83 214.06 L609.54 214.21 L610.33 214.37 L611.2 214.55 L612.14 214.74 L613.12 214.93 L614.14 215.13 L615.23 215.33 L616.38 215.53 L617.59 215.72 L618.88 215.91 L620.25 216.09 L621.72 216.26 L623.29 216.43 L624.95 216.6 L626.66 216.77 L628.43 216.92 L630.22 217.07 L632.03 217.2 L633.83 217.32 L635.65 217.42 L637.5 217.51 L639.38 217.59 L641.28 217.65 L643.2 217.71 L645.11 217.76 L647.02 217.81 L648.92 217.86 L650.81 217.9 L652.69 217.94 L654.58 217.98 L656.47 218.01 L658.35 218.03 L660.24 218.06 L662.12 218.07 L664.01 218.09 L666 218.1 L668.14 218.11 L670.33 218.11 L672.5 218.1 L674.55 218.1 L676.39 218.1 L677.94 218.09 L679.1 218.09" stroke="#2f6dc6" stroke-width="1.25" fill="none" stroke-linejoin="round" stroke-linecap="round"/>
<path d="M392.4 213.7 L393.22 213.86 L394.26 214.09 L395.48 214.35 L396.88 214.64 L398.42 214.95 L400.09 215.25 L401.86 215.53 L403.72 215.78 L405.71 216.02 L407.9 216.27 L410.24 216.51 L412.68 216.75 L415.17 216.96 L417.69 217.14 L420.17 217.26 L422.58 217.32 L424.99 217.3 L427.47 217.22 L429.98 217.08 L432.48 216.91 L434.92 216.72 L437.26 216.52 L439.44 216.33 L441.44 216.16 L443.24 216.02 L444.89 215.88 L446.4 215.73 L447.81 215.59 L449.12 215.44 L450.37 215.3 L451.58 215.15 L452.76 215.01 L453.88 214.87 L454.91 214.76 L455.86 214.64 L456.77 214.53 L457.64 214.4 L458.5 214.25 L459.39 214.07 L460.3 213.85 L461.25 213.62 L462.19 213.39 L463.13 213.14 L464.08 212.87 L465.02 212.55 L465.96 212.17 L466.9 211.71 L467.85 211.16 L468.79 210.51 L469.73 209.79 L470.68 209 L471.62 208.15 L472.56 207.24 L473.51 206.27 L474.45 205.27 L475.39 204.22 L476.34 203.12 L477.28 201.96 L478.23 200.73 L479.18 199.46 L480.12 198.16 L481.06 196.84 L482 195.52 L482.94 194.21 L483.86 192.92 L484.78 191.64 L485.69 190.36 L486.6 189.06 L487.52 187.73 L488.43 186.36 L489.36 184.93 L490.29 183.42 L491.21 181.91 L492.09 180.43 L492.96 178.92 L493.84 177.36 L494.76 175.68 L495.75 173.86 L496.83 171.83 L498.03 169.56 L499.39 166.93 L500.9 163.94 L502.53 160.7 L504.22 157.33 L505.9 153.95 L507.54 150.67 L509.09 147.62 L510.48 144.91 L511.72 142.51 L512.86 140.32 L513.92 138.28 L514.93 136.39 L515.9 134.59 L516.85 132.87 L517.8 131.18 L518.77 129.5 L519.74 127.85 L520.67 126.27 L521.58 124.75 L522.48 123.29 L523.38 121.88 L524.32 120.53 L525.29 119.22 L526.32 117.95 L527.43 116.7 L528.63 115.48 L529.88 114.29 L531.15 113.16 L532.41 112.09 L533.61 111.11 L534.74 110.23 L535.75 109.47 L536.64 108.85 L537.45 108.35 L538.18 107.96 L538.86 107.65 L539.51 107.4 L540.14 107.19 L540.76 106.99 L541.41 106.78 L542.06 106.57 L542.7 106.4 L543.32 106.27 L543.93 106.16 L544.53 106.07 L545.13 106.01 L545.72 105.96 L546.31 105.93 L546.89 105.91 L547.44 105.89 L547.99 105.89 L548.53 105.92 L549.08 105.97 L549.64 106.06 L550.22 106.2 L550.84 106.39 L551.5 106.64 L552.19 106.92 L552.91 107.25 L553.65 107.62 L554.38 108.03 L555.11 108.48 L555.82 108.96 L556.5 109.47 L557.15 110.03 L557.79 110.64 L558.43 111.29 L559.04 111.98 L559.65 112.69 L560.25 113.41 L560.83 114.14 L561.4 114.87 L561.96 115.59 L562.49 116.33 L563.01 117.09 L563.52 117.85 L564.03 118.63 L564.53 119.42 L565.04 120.22 L565.55 121.03 L566.07 121.85 L566.59 122.67 L567.11 123.5 L567.63 124.35 L568.15 125.21 L568.66 126.1 L569.18 127.02 L569.7 127.96 L570.22 128.93 L570.74 129.9 L571.26 130.89 L571.78 131.91 L572.29 132.96 L572.81 134.06 L573.33 135.22 L573.85 136.43 L574.37 137.7 L574.88 139 L575.39 140.34 L575.9 141.73 L576.42 143.18 L576.94 144.7 L577.46 146.3 L578 147.99 L578.55 149.77 L579.11 151.64 L579.68 153.58 L580.25 155.6 L580.83 157.67 L581.4 159.8 L581.97 161.97 L582.53 164.17 L583.08 166.47 L583.63 168.91 L584.18 171.43 L584.73 173.99 L585.27 176.52 L585.81 178.97 L586.34 181.29 L586.87 183.42 L587.38 185.39 L587.88 187.25 L588.37 189.01 L588.86 190.67 L589.34 192.25 L589.83 193.74 L590.33 195.17 L590.83 196.52 L591.33 197.79 L591.83 198.96 L592.34 200.04 L592.84 201.05 L593.36 201.99 L593.88 202.89 L594.42 203.76 L594.98 204.61 L595.55 205.43 L596.13 206.2 L596.73 206.93 L597.33 207.62 L597.95 208.27 L598.58 208.88 L599.23 209.46 L599.88 210 L600.55 210.51 L601.24 210.97 L601.95 211.4 L602.66 211.79 L603.38 212.15 L604.11 212.48 L604.83 212.79 L605.54 213.08 L606.22 213.34 L606.87 213.56 L607.51 213.75 L608.16 213.91 L608.83 214.06 L609.54 214.21 L610.33 214.37 L611.2 214.55 L612.14 214.74 L613.12 214.93 L614.14 215.13 L615.23 215.33 L616.38 215.53 L617.59 215.72 L618.88 215.91 L620.25 216.09 L621.72 216.26 L623.29 216.43 L624.95 216.6 L626.66 216.77 L628.43 216.92 L630.22 217.07 L632.03 217.2 L633.83 217.32 L635.65 217.42 L637.5 217.51 L639.38 217.59 L641.28 217.65 L643.2 217.71 L645.11 217.76 L647.02 217.81 L648.92 217.86 L650.81 217.9 L652.69 217.94 L654.58 217.98 L656.47 218.01 L658.35 218.03 L660.24 218.06 L662.12 218.07 L664.01 218.09 L666 218.1 L668.14 218.11 L670.33 218.11 L672.5 218.1 L674.55 218.1 L676.39 218.1 L677.94 218.09 L679.1 218.09" stroke="#3ba36c" stroke-width="1.25" fill="none" stroke-linejoin="round" stroke-linecap="round"/>
<path d="M392.4 212.93 L393.22 213.04 L394.26 213.18 L395.48 213.36 L396.88 213.55 L398.42 213.75 L400.09 213.94 L401.86 214.11 L403.72 214.24 L405.71 214.35 L407.9 214.46 L410.24 214.57 L412.68 214.65 L415.17 214.72 L417.69 214.75 L420.17 214.75 L422.58 214.7 L424.99 214.6 L427.47 214.44 L429.98 214.24 L432.48 214.02 L434.92 213.78 L437.26 213.53 L439.44 213.3 L441.44 213.08 L443.24 212.88 L444.89 212.68 L446.4 212.48 L447.81 212.28 L449.12 212.09 L450.37 211.9 L451.58 211.72 L452.76 211.54 L453.88 211.39 L454.91 211.25 L455.86 211.13 L456.77 211.01 L457.64 210.89 L458.5 210.75 L459.39 210.58 L460.3 210.39 L461.25 210.17 L462.19 209.94 L463.13 209.71 L464.08 209.45 L465.02 209.16 L465.96 208.84 L466.9 208.48 L467.85 208.08 L468.79 207.63 L469.73 207.15 L470.68 206.65 L471.62 206.1 L472.56 205.51 L473.51 204.88 L474.45 204.19 L475.39 203.45 L476.32 202.67 L477.23 201.85 L478.13 200.99 L479.03 200.08 L479.95 199.11 L480.9 198.07 L481.89 196.96 L482.94 195.75 L484.05 194.43 L485.22 192.99 L486.44 191.47 L487.68 189.88 L488.94 188.25 L490.19 186.61 L491.43 185 L492.63 183.42 L493.81 181.88 L495 180.34 L496.18 178.8 L497.35 177.26 L498.5 175.72 L499.63 174.18 L500.73 172.64 L501.8 171.1 L502.82 169.57 L503.78 168.05 L504.72 166.55 L505.63 165.03 L506.54 163.51 L507.45 161.96 L508.38 160.39 L509.34 158.77 L510.34 157.09 L511.37 155.34 L512.41 153.55 L513.46 151.75 L514.5 149.95 L515.53 148.19 L516.53 146.5 L517.49 144.91 L518.41 143.4 L519.3 141.96 L520.16 140.57 L521 139.23 L521.84 137.92 L522.68 136.64 L523.54 135.38 L524.43 134.12 L525.35 132.87 L526.28 131.63 L527.22 130.41 L528.17 129.21 L529.12 128.05 L530.08 126.94 L531.03 125.88 L531.98 124.88 L532.92 123.94 L533.86 123.06 L534.81 122.22 L535.75 121.44 L536.69 120.7 L537.64 120 L538.58 119.34 L539.52 118.72 L540.47 118.14 L541.41 117.61 L542.35 117.12 L543.29 116.67 L544.24 116.26 L545.18 115.89 L546.12 115.55 L547.07 115.25 L548.03 114.98 L549.02 114.74 L550.03 114.53 L551.03 114.36 L552 114.23 L552.94 114.14 L553.81 114.09 L554.61 114.09 L555.32 114.14 L555.96 114.23 L556.55 114.36 L557.09 114.53 L557.6 114.74 L558.1 115 L558.61 115.3 L559.14 115.64 L559.67 116.02 L560.19 116.43 L560.71 116.89 L561.21 117.39 L561.72 117.94 L562.23 118.53 L562.75 119.18 L563.29 119.87 L563.84 120.63 L564.39 121.44 L564.96 122.31 L565.53 123.22 L566.1 124.17 L566.67 125.15 L567.25 126.16 L567.82 127.19 L568.38 128.25 L568.96 129.35 L569.53 130.48 L570.1 131.64 L570.67 132.83 L571.24 134.02 L571.79 135.23 L572.34 136.43 L572.87 137.6 L573.37 138.7 L573.86 139.8 L574.35 140.91 L574.84 142.1 L575.36 143.39 L575.9 144.82 L576.49 146.45 L577.13 148.28 L577.83 150.3 L578.55 152.46 L579.3 154.73 L580.04 157.07 L580.78 159.45 L581.49 161.83 L582.15 164.17 L582.77 166.54 L583.37 169.02 L583.95 171.55 L584.51 174.08 L585.06 176.59 L585.6 179.01 L586.14 181.3 L586.68 183.42 L587.21 185.39 L587.74 187.25 L588.26 189.01 L588.78 190.67 L589.29 192.25 L589.8 193.74 L590.31 195.17 L590.83 196.52 L591.34 197.79 L591.85 198.96 L592.35 200.04 L592.85 201.05 L593.36 201.99 L593.89 202.89 L594.42 203.76 L594.98 204.61 L595.55 205.43 L596.13 206.2 L596.73 206.93 L597.33 207.62 L597.95 208.27 L598.58 208.88 L599.23 209.46 L599.88 210 L600.55 210.51 L601.24 210.97 L601.95 211.4 L602.66 211.79 L603.38 212.15 L604.11 212.48 L604.83 212.79 L605.54 213.08 L606.22 213.34 L606.87 213.56 L607.51 213.75 L608.16 213.91 L608.83 214.06 L609.54 214.21 L610.33 214.37 L611.2 214.55 L612.14 214.74 L613.12 214.93 L614.14 215.13 L615.23 215.33 L616.38 215.53 L617.59 215.72 L618.88 215.91 L620.25 216.09 L621.72 216.26 L623.29 216.43 L624.95 216.6 L626.66 216.77 L628.43 216.92 L630.22 217.07 L632.03 217.2 L633.83 217.32 L635.65 217.42 L637.5 217.51 L639.38 217.59 L641.28 217.65 L643.2 217.71 L645.11 217.76 L647.02 217.81 L648.92 217.86 L650.81 217.9 L652.69 217.93 L654.58 217.96 L656.47 217.98 L658.35 218.01 L660.24 218.03 L662.12 218.06 L664.01 218.09 L666 218.13 L668.14 218.18 L670.33 218.24 L672.5 218.3 L674.55 218.35 L676.39 218.4 L677.94 218.44 L679.1 218.48" stroke="#b283df" stroke-width="1.25" fill="none" stroke-linejoin="round" stroke-linecap="round"/>
<path d="M392.4 209.69 L393.22 209.99 L394.26 210.4 L395.48 210.88 L396.88 211.41 L398.42 211.97 L400.09 212.51 L401.86 213.02 L403.72 213.47 L405.71 213.88 L407.9 214.28 L410.24 214.68 L412.68 215.05 L415.17 215.4 L417.69 215.7 L420.17 215.96 L422.58 216.16 L424.99 216.3 L427.47 216.38 L429.98 216.41 L432.48 216.4 L434.92 216.37 L437.26 216.31 L439.44 216.24 L441.44 216.16 L443.24 216.08 L444.89 215.96 L446.4 215.82 L447.81 215.67 L449.12 215.5 L450.37 215.34 L451.58 215.17 L452.76 215.01 L453.88 214.87 L454.91 214.74 L455.86 214.62 L456.77 214.49 L457.64 214.34 L458.5 214.17 L459.39 213.96 L460.3 213.7 L461.25 213.42 L462.19 213.13 L463.13 212.83 L464.08 212.49 L465.02 212.09 L465.96 211.62 L466.9 211.06 L467.85 210.39 L468.8 209.58 L469.78 208.65 L470.76 207.62 L471.74 206.52 L472.7 205.37 L473.64 204.21 L474.54 203.04 L475.39 201.91 L476.2 200.79 L476.97 199.66 L477.7 198.5 L478.41 197.34 L479.09 196.17 L479.76 195 L480.41 193.83 L481.05 192.67 L481.66 191.57 L482.21 190.54 L482.73 189.54 L483.24 188.53 L483.76 187.46 L484.31 186.28 L484.91 184.95 L485.58 183.42 L486.31 181.71 L487.1 179.84 L487.93 177.84 L488.8 175.72 L489.68 173.51 L490.58 171.22 L491.48 168.87 L492.37 166.48 L493.25 164.12 L494.14 161.81 L495.04 159.47 L495.95 157.04 L496.87 154.44 L497.81 151.6 L498.76 148.45 L499.72 144.91 L500.73 140.8 L501.76 136.11 L502.83 131.03 L503.9 125.75 L504.97 120.45 L506.02 115.33 L507.04 110.58 L508.02 106.39 L508.96 102.71 L509.86 99.35 L510.73 96.26 L511.58 93.39 L512.43 90.71 L513.27 88.16 L514.13 85.7 L515 83.28 L515.88 80.95 L516.76 78.75 L517.64 76.69 L518.53 74.74 L519.42 72.89 L520.32 71.14 L521.24 69.47 L522.17 67.88 L523.14 66.36 L524.15 64.95 L525.18 63.62 L526.22 62.39 L527.25 61.24 L528.25 60.17 L529.2 59.17 L530.09 58.25 L530.9 57.4 L531.65 56.65 L532.35 55.99 L533.02 55.4 L533.67 54.87 L534.34 54.39 L535.02 53.95 L535.75 53.55 L536.52 53.17 L537.3 52.85 L538.1 52.57 L538.91 52.33 L539.72 52.15 L540.54 52.02 L541.36 51.95 L542.16 51.93 L542.97 51.96 L543.78 52.04 L544.58 52.17 L545.39 52.36 L546.2 52.6 L547 52.9 L547.79 53.27 L548.58 53.7 L549.35 54.21 L550.1 54.78 L550.85 55.43 L551.59 56.13 L552.34 56.89 L553.09 57.69 L553.84 58.53 L554.61 59.4 L555.4 60.29 L556.2 61.18 L557.01 62.11 L557.82 63.08 L558.63 64.12 L559.44 65.26 L560.24 66.5 L561.02 67.88 L561.82 69.43 L562.63 71.17 L563.45 73.05 L564.25 75 L565.03 76.98 L565.77 78.92 L566.45 80.79 L567.06 82.51 L567.58 84.1 L568.03 85.6 L568.41 87.04 L568.76 88.43 L569.08 89.81 L569.39 91.2 L569.72 92.61 L570.08 94.07 L570.45 95.52 L570.82 96.93 L571.19 98.33 L571.55 99.75 L571.92 101.23 L572.3 102.8 L572.69 104.51 L573.1 106.39 L573.52 108.47 L573.96 110.72 L574.41 113.11 L574.86 115.59 L575.33 118.12 L575.78 120.67 L576.24 123.2 L576.68 125.65 L577.11 128.06 L577.54 130.46 L577.96 132.87 L578.38 135.28 L578.8 137.69 L579.22 140.09 L579.64 142.5 L580.08 144.91 L580.51 147.32 L580.95 149.72 L581.4 152.13 L581.84 154.54 L582.29 156.94 L582.75 159.35 L583.2 161.76 L583.66 164.17 L584.12 166.62 L584.59 169.13 L585.07 171.68 L585.55 174.21 L586.02 176.68 L586.5 179.07 L586.97 181.33 L587.43 183.42 L587.88 185.36 L588.33 187.17 L588.76 188.87 L589.2 190.48 L589.64 192 L590.08 193.44 L590.54 194.81 L591.02 196.14 L591.5 197.38 L592 198.54 L592.5 199.61 L593.02 200.61 L593.54 201.56 L594.07 202.47 L594.62 203.36 L595.16 204.22 L595.72 205.08 L596.28 205.89 L596.85 206.68 L597.43 207.43 L598.02 208.13 L598.62 208.8 L599.24 209.42 L599.88 210 L600.54 210.53 L601.23 211 L601.93 211.43 L602.65 211.81 L603.38 212.16 L604.1 212.49 L604.83 212.79 L605.54 213.08 L606.22 213.34 L606.87 213.56 L607.51 213.75 L608.16 213.91 L608.83 214.06 L609.54 214.21 L610.33 214.37 L611.2 214.55 L612.14 214.74 L613.12 214.93 L614.14 215.13 L615.23 215.33 L616.38 215.53 L617.59 215.72 L618.88 215.91 L620.25 216.09 L621.72 216.26 L623.29 216.43 L624.95 216.6 L626.66 216.77 L628.43 216.92 L630.22 217.07 L632.03 217.2 L633.83 217.32 L635.65 217.42 L637.5 217.51 L639.38 217.59 L641.28 217.65 L643.2 217.71 L645.11 217.76 L647.02 217.81 L648.92 217.86 L650.81 217.9 L652.69 217.94 L654.58 217.96 L656.47 217.99 L658.35 218.01 L660.24 218.03 L662.12 218.06 L664.01 218.09 L666 218.13 L668.14 218.17 L670.33 218.21 L672.5 218.26 L674.55 218.3 L676.39 218.34 L677.94 218.37 L679.1 218.4" stroke="#c8a125" stroke-width="1.25" fill="none" stroke-linejoin="round" stroke-linecap="round"/>
<path d="M392.4 241.2 v-2 M396.17 241.2 v-2 M399.94 241.2 v-2 M403.72 241.2 v-2 M407.49 241.2 v-2 M411.26 241.2 v-2 M415.03 241.2 v-2 M418.81 241.2 v-2 M422.58 241.2 v-2 M426.35 241.2 v-2 M430.12 241.2 v-2 M433.9 241.2 v-2 M437.67 241.2 v-2 M441.44 241.2 v-2 M445.21 241.2 v-2 M448.99 241.2 v-2 M452.76 241.2 v-2 M456.53 241.2 v-2 M460.3 241.2 v-2 M464.07 241.2 v-2 M467.85 241.2 v-2 M471.62 241.2 v-2 M475.39 241.2 v-2 M479.16 241.2 v-2 M482.94 241.2 v-2 M486.71 241.2 v-2 M490.48 241.2 v-2 M494.25 241.2 v-2 M498.03 241.2 v-2 M501.8 241.2 v-2 M505.57 241.2 v-2 M509.34 241.2 v-2 M513.12 241.2 v-2 M516.89 241.2 v-2 M520.66 241.2 v-2 M524.43 241.2 v-2 M528.21 241.2 v-2 M531.98 241.2 v-2 M535.75 241.2 v-2 M539.52 241.2 v-2 M543.29 241.2 v-2 M547.07 241.2 v-2 M550.84 241.2 v-2 M554.61 241.2 v-2 M558.38 241.2 v-2 M562.16 241.2 v-2 M565.93 241.2 v-2 M569.7 241.2 v-2 M573.47 241.2 v-2 M577.25 241.2 v-2 M581.02 241.2 v-2 M584.79 241.2 v-2 M588.56 241.2 v-2 M592.34 241.2 v-2 M596.11 241.2 v-2 M599.88 241.2 v-2 M603.65 241.2 v-2 M607.42 241.2 v-2 M611.2 241.2 v-2 M614.97 241.2 v-2 M618.74 241.2 v-2 M622.51 241.2 v-2 M626.29 241.2 v-2 M630.06 241.2 v-2 M633.83 241.2 v-2 M637.6 241.2 v-2 M641.38 241.2 v-2 M645.15 241.2 v-2 M648.92 241.2 v-2 M652.69 241.2 v-2 M656.47 241.2 v-2 M660.24 241.2 v-2 M664.01 241.2 v-2 M667.78 241.2 v-2 M671.56 241.2 v-2 M675.33 241.2 v-2 M679.1 241.2 v-2 M392.4 241.2 h1.7 M392.4 237.35 h1.7 M392.4 233.5 h1.7 M392.4 229.64 h1.7 M392.4 225.79 h1.7 M392.4 221.94 h1.7 M392.4 218.09 h1.7 M392.4 214.24 h1.7 M392.4 210.39 h1.7 M392.4 206.53 h1.7 M392.4 202.68 h1.7 M392.4 198.83 h1.7 M392.4 194.98 h1.7 M392.4 191.13 h1.7 M392.4 187.28 h1.7 M392.4 183.42 h1.7 M392.4 179.57 h1.7 M392.4 175.72 h1.7 M392.4 171.87 h1.7 M392.4 168.02 h1.7 M392.4 164.17 h1.7 M392.4 160.31 h1.7 M392.4 156.46 h1.7 M392.4 152.61 h1.7 M392.4 148.76 h1.7 M392.4 144.91 h1.7 M392.4 141.06 h1.7 M392.4 137.2 h1.7 M392.4 133.35 h1.7 M392.4 129.5 h1.7 M392.4 125.65 h1.7 M392.4 121.8 h1.7 M392.4 117.95 h1.7 M392.4 114.09 h1.7 M392.4 110.24 h1.7 M392.4 106.39 h1.7 M392.4 102.54 h1.7 M392.4 98.69 h1.7 M392.4 94.84 h1.7 M392.4 90.98 h1.7 M392.4 87.13 h1.7 M392.4 83.28 h1.7 M392.4 79.43 h1.7 M392.4 75.58 h1.7 M392.4 71.73 h1.7 M392.4 67.88 h1.7 M392.4 64.02 h1.7 M392.4 60.17 h1.7 M392.4 56.32 h1.7 M392.4 52.47 h1.7 M392.4 48.62 h1.7 M392.4 44.76 h1.7 M392.4 40.91 h1.7 M392.4 37.06 h1.7 M392.4 33.21 h1.7 M392.4 29.36 h1.7 M392.4 25.51 h1.7 M392.4 21.66 h1.7 M392.4 17.8 h1.7 M392.4 13.95 h1.7 M392.4 10.1 h1.7" stroke="#1c1c1c" stroke-width="1.0" fill="none"/>
<path d="M392.4 10.1 v1.7 M396.17 10.1 v1.7 M399.94 10.1 v1.7 M403.72 10.1 v1.7 M407.49 10.1 v1.7 M411.26 10.1 v1.7 M415.03 10.1 v1.7 M418.81 10.1 v1.7 M422.58 10.1 v1.7 M426.35 10.1 v1.7 M430.12 10.1 v1.7 M433.9 10.1 v1.7 M437.67 10.1 v1.7 M441.44 10.1 v1.7 M445.21 10.1 v1.7 M448.99 10.1 v1.7 M452.76 10.1 v1.7 M456.53 10.1 v1.7 M460.3 10.1 v1.7 M464.07 10.1 v1.7 M467.85 10.1 v1.7 M471.62 10.1 v1.7 M475.39 10.1 v1.7 M479.16 10.1 v1.7 M482.94 10.1 v1.7 M486.71 10.1 v1.7 M490.48 10.1 v1.7 M494.25 10.1 v1.7 M498.03 10.1 v1.7 M501.8 10.1 v1.7 M505.57 10.1 v1.7 M509.34 10.1 v1.7 M513.12 10.1 v1.7 M516.89 10.1 v1.7 M520.66 10.1 v1.7 M524.43 10.1 v1.7 M528.21 10.1 v1.7 M531.98 10.1 v1.7 M535.75 10.1 v1.7 M539.52 10.1 v1.7 M543.29 10.1 v1.7 M547.07 10.1 v1.7 M550.84 10.1 v1.7 M554.61 10.1 v1.7 M558.38 10.1 v1.7 M562.16 10.1 v1.7 M565.93 10.1 v1.7 M569.7 10.1 v1.7 M573.47 10.1 v1.7 M577.25 10.1 v1.7 M581.02 10.1 v1.7 M584.79 10.1 v1.7 M588.56 10.1 v1.7 M592.34 10.1 v1.7 M596.11 10.1 v1.7 M599.88 10.1 v1.7 M603.65 10.1 v1.7 M607.42 10.1 v1.7 M611.2 10.1 v1.7 M614.97 10.1 v1.7 M618.74 10.1 v1.7 M622.51 10.1 v1.7 M626.29 10.1 v1.7 M630.06 10.1 v1.7 M633.83 10.1 v1.7 M637.6 10.1 v1.7 M641.38 10.1 v1.7 M645.15 10.1 v1.7 M648.92 10.1 v1.7 M652.69 10.1 v1.7 M656.47 10.1 v1.7 M660.24 10.1 v1.7 M664.01 10.1 v1.7 M667.78 10.1 v1.7 M671.56 10.1 v1.7 M675.33 10.1 v1.7 M679.1 10.1 v1.7 M679.1 241.2 h-1.7 M679.1 237.35 h-1.7 M679.1 233.5 h-1.7 M679.1 229.64 h-1.7 M679.1 225.79 h-1.7 M679.1 221.94 h-1.7 M679.1 218.09 h-1.7 M679.1 214.24 h-1.7 M679.1 210.39 h-1.7 M679.1 206.53 h-1.7 M679.1 202.68 h-1.7 M679.1 198.83 h-1.7 M679.1 194.98 h-1.7 M679.1 191.13 h-1.7 M679.1 187.28 h-1.7 M679.1 183.42 h-1.7 M679.1 179.57 h-1.7 M679.1 175.72 h-1.7 M679.1 171.87 h-1.7 M679.1 168.02 h-1.7 M679.1 164.17 h-1.7 M679.1 160.31 h-1.7 M679.1 156.46 h-1.7 M679.1 152.61 h-1.7 M679.1 148.76 h-1.7 M679.1 144.91 h-1.7 M679.1 141.06 h-1.7 M679.1 137.2 h-1.7 M679.1 133.35 h-1.7 M679.1 129.5 h-1.7 M679.1 125.65 h-1.7 M679.1 121.8 h-1.7 M679.1 117.95 h-1.7 M679.1 114.09 h-1.7 M679.1 110.24 h-1.7 M679.1 106.39 h-1.7 M679.1 102.54 h-1.7 M679.1 98.69 h-1.7 M679.1 94.84 h-1.7 M679.1 90.98 h-1.7 M679.1 87.13 h-1.7 M679.1 83.28 h-1.7 M679.1 79.43 h-1.7 M679.1 75.58 h-1.7 M679.1 71.73 h-1.7 M679.1 67.88 h-1.7 M679.1 64.02 h-1.7 M679.1 60.17 h-1.7 M679.1 56.32 h-1.7 M679.1 52.47 h-1.7 M679.1 48.62 h-1.7 M679.1 44.76 h-1.7 M679.1 40.91 h-1.7 M679.1 37.06 h-1.7 M679.1 33.21 h-1.7 M679.1 29.36 h-1.7 M679.1 25.51 h-1.7 M679.1 21.66 h-1.7 M679.1 17.8 h-1.7 M679.1 13.95 h-1.7 M679.1 10.1 h-1.7" stroke="#2e2e2e" stroke-width="0.9" fill="none"/>
<path d="M422.58 241.2 v-3.9 M460.3 241.2 v-3.9 M498.03 241.2 v-3.9 M535.75 241.2 v-3.9 M573.47 241.2 v-3.9 M611.2 241.2 v-3.9 M648.92 241.2 v-3.9 M392.4 221.94 h2.92 M392.4 183.42 h2.92 M392.4 144.91 h2.92 M392.4 106.39 h2.92 M392.4 67.88 h2.92 M392.4 29.36 h2.92" stroke="#1c1c1c" stroke-width="1.15" fill="none"/>
<path d="M422.58 10.1 v3.31 M460.3 10.1 v3.31 M498.03 10.1 v3.31 M535.75 10.1 v3.31 M573.47 10.1 v3.31 M611.2 10.1 v3.31 M648.92 10.1 v3.31 M679.1 221.94 h-2.81 M679.1 183.42 h-2.81 M679.1 144.91 h-2.81 M679.1 106.39 h-2.81 M679.1 67.88 h-2.81 M679.1 29.36 h-2.81" stroke="#2e2e2e" stroke-width="1.0" fill="none"/>
<path d="M392.4 10.1 H679.1 V241.2" fill="none" stroke="#2e2e2e" stroke-width="1" stroke-linecap="square"/>
<path d="M392.4 10.1 V241.2 H679.1" fill="none" stroke="#1c1c1c" stroke-width="1.55" stroke-linecap="square"/>
<text x="422.58" y="254.1" font-size="9.8" text-anchor="middle" textLength="21.19" lengthAdjust="spacingAndGlyphs" fill="#1f1f1f">−100</text>
<text x="460.3" y="254.1" font-size="9.8" text-anchor="middle" textLength="5.23" lengthAdjust="spacingAndGlyphs" fill="#1f1f1f">0</text>
<text x="498.03" y="254.1" font-size="9.8" text-anchor="middle" textLength="15.7" lengthAdjust="spacingAndGlyphs" fill="#1f1f1f">100</text>
<text x="535.75" y="254.1" font-size="9.8" text-anchor="middle" textLength="15.7" lengthAdjust="spacingAndGlyphs" fill="#1f1f1f">200</text>
<text x="573.47" y="254.1" font-size="9.8" text-anchor="middle" textLength="15.7" lengthAdjust="spacingAndGlyphs" fill="#1f1f1f">300</text>
<text x="611.2" y="254.1" font-size="9.8" text-anchor="middle" textLength="15.7" lengthAdjust="spacingAndGlyphs" fill="#1f1f1f">400</text>
<text x="648.92" y="254.1" font-size="9.8" text-anchor="middle" textLength="15.7" lengthAdjust="spacingAndGlyphs" fill="#1f1f1f">500</text>
<text x="389.6" y="225.47" font-size="9.8" text-anchor="end" textLength="5.23" lengthAdjust="spacingAndGlyphs" fill="#1f1f1f">0</text>
<text x="389.6" y="186.95" font-size="9.8" text-anchor="end" textLength="10.47" lengthAdjust="spacingAndGlyphs" fill="#1f1f1f">50</text>
<text x="389.6" y="148.44" font-size="9.8" text-anchor="end" textLength="15.7" lengthAdjust="spacingAndGlyphs" fill="#1f1f1f">100</text>
<text x="389.6" y="109.92" font-size="9.8" text-anchor="end" textLength="15.7" lengthAdjust="spacingAndGlyphs" fill="#1f1f1f">150</text>
<text x="389.6" y="71.4" font-size="9.8" text-anchor="end" textLength="15.7" lengthAdjust="spacingAndGlyphs" fill="#1f1f1f">200</text>
<text x="389.6" y="32.89" font-size="9.8" text-anchor="end" textLength="15.7" lengthAdjust="spacingAndGlyphs" fill="#1f1f1f">250</text>
<rect x="398.4" y="16.4" width="101" height="59.8" fill="#fff" stroke="#6e6e6e" stroke-width="0.7"/>
<path d="M398.6 21.7 H416.4" stroke="#22e3ee" stroke-width="1.2"/>
<text x="418.9" y="24" font-size="7.75" fill="#1f1f1f" xml:space="preserve">Porous Au (Bare)</text>
<path d="M398.6 31.25 H416.4" stroke="#d9504f" stroke-width="1.2"/>
<text x="418.9" y="33.55" font-size="7.75" fill="#1f1f1f" xml:space="preserve">First Ab: 10 µg/mL</text>
<path d="M398.6 40.8 H416.4" stroke="#2f6dc6" stroke-width="1.2"/>
<text x="418.9" y="43.1" font-size="7.75" fill="#1f1f1f" xml:space="preserve">Block (Gelatine)</text>
<path d="M398.6 50.35 H416.4" stroke="#3ba36c" stroke-width="1.2"/>
<text x="418.9" y="52.65" font-size="7.75" fill="#1f1f1f" xml:space="preserve">rp-CP-TBRFV: 1pg/mL</text>
<path d="M398.6 59.9 H416.4" stroke="#b283df" stroke-width="1.2"/>
<text x="418.9" y="62.2" font-size="7.75" fill="#1f1f1f" xml:space="preserve">Ab-HRP: 0.42 µg/mL</text>
<path d="M398.6 69.45 H416.4" stroke="#c8a125" stroke-width="1.2"/>
<text x="418.9" y="71.75" font-size="7.75" fill="#1f1f1f">Ab-HRP+TMB+H<tspan font-size="4.65" dy="1.71">2</tspan><tspan dy="-1.71">O</tspan><tspan font-size="4.65" dy="1.71">2</tspan></text>
<text x="554.9" y="24.6" font-size="11.2" text-anchor="middle" fill="#1f1f1f">b</text>
<text transform="translate(535.6 272)" font-size="10.6" text-anchor="middle" textLength="66.6" lengthAdjust="spacingAndGlyphs" fill="#1f1f1f" font-weight="bold" font-family='"Liberation Serif", serif'>Potential [mV]</text>
<text transform="translate(366.4 127.6) rotate(-90)" font-size="10.6" text-anchor="middle" textLength="52.2" lengthAdjust="spacingAndGlyphs" fill="#1f1f1f" font-weight="bold" font-family='"Liberation Serif", serif'>di [µA/cm²]</text>
</g>
<g id="chart-c">
<path d="M237.28 312.3 V555.5 M267.56 312.3 V555.5 M297.84 312.3 V555.5 M328.12 312.3 V555.5 M358.4 312.3 V555.5 M388.68 312.3 V555.5 M418.96 312.3 V555.5 M449.24 312.3 V555.5 M479.52 312.3 V555.5 M207 528.48 H509.8 M207 501.46 H509.8 M207 474.43 H509.8 M207 447.41 H509.8 M207 420.39 H509.8 M207 393.37 H509.8 M207 366.34 H509.8 M207 339.32 H509.8" stroke="#ebebeb" stroke-width="0.9" fill="none"/>
<g fill="#1fe9f2"><rect x="233.83" y="521.42" width="6" height="6"/><rect x="234.64" y="519.43" width="6" height="6"/><rect x="235.44" y="517.56" width="6" height="6"/><rect x="236.4" y="515.79" width="6" height="6"/><rect x="237.48" y="514.33" width="6" height="6"/><rect x="239.06" y="512.86" width="6" height="6"/><rect x="240.68" y="511.68" width="6" height="6"/><rect x="242.49" y="510.68" width="6" height="6"/><rect x="244.2" y="510.14" width="6" height="6"/><rect x="246.15" y="510.03" width="6" height="6"/><rect x="248.22" y="510.44" width="6" height="6"/><rect x="250.25" y="511.33" width="6" height="6"/><rect x="251.97" y="512.29" width="6" height="6"/><rect x="253.49" y="513.23" width="6" height="6"/><rect x="255.02" y="514.45" width="6" height="6"/><rect x="256.58" y="515.75" width="6" height="6"/><rect x="258.26" y="516.67" width="6" height="6"/><rect x="260.2" y="516.68" width="6" height="6"/><rect x="261.95" y="515.32" width="6" height="6"/><rect x="263.18" y="513.81" width="6" height="6"/><rect x="264.3" y="512.11" width="6" height="6"/><rect x="265.32" y="510.35" width="6" height="6"/><rect x="266.19" y="508.65" width="6" height="6"/><rect x="267.11" y="506.71" width="6" height="6"/><rect x="267.84" y="505.17" width="6" height="6"/><rect x="268.84" y="503.04" width="6" height="6"/><rect x="269.66" y="501.36" width="6" height="6"/><rect x="270.62" y="499.43" width="6" height="6"/><rect x="271.61" y="497.43" width="6" height="6"/><rect x="272.24" y="496.15" width="6" height="6"/><rect x="273.29" y="494.04" width="6" height="6"/><rect x="273.64" y="493.32" width="6" height="6"/></g>
<g fill="#ee3f3c"><circle cx="237.28" cy="525.24" r="3.4"/><circle cx="237.9" cy="522.95" r="3.4"/><circle cx="238.49" cy="520.84" r="3.4"/><circle cx="239" cy="519.2" r="3.4"/><circle cx="239.74" cy="517.19" r="3.4"/><circle cx="240.34" cy="515.72" r="3.4"/><circle cx="241.21" cy="513.73" r="3.4"/><circle cx="242.19" cy="511.82" r="3.4"/><circle cx="243.34" cy="510.1" r="3.4"/><circle cx="244.69" cy="508.57" r="3.4"/><circle cx="245.83" cy="507.5" r="3.4"/><circle cx="247.42" cy="506.23" r="3.4"/><circle cx="249.39" cy="504.97" r="3.4"/><circle cx="250.91" cy="504.22" r="3.4"/><circle cx="252.8" cy="503.59" r="3.4"/><circle cx="255.07" cy="503.33" r="3.4"/><circle cx="256.96" cy="503.61" r="3.4"/><circle cx="258.85" cy="504.31" r="3.4"/><circle cx="260.37" cy="505.1" r="3.4"/><circle cx="262.28" cy="506.3" r="3.4"/><circle cx="263.87" cy="507.55" r="3.4"/><circle cx="265.46" cy="508.95" r="3.4"/><circle cx="266.91" cy="510.3" r="3.4"/><circle cx="268.14" cy="511.49" r="3.4"/><circle cx="269.61" cy="513.16" r="3.4"/><circle cx="270.9" cy="514.58" r="3.4"/><circle cx="272.46" cy="515.75" r="3.4"/><circle cx="274.19" cy="516.5" r="3.4"/><circle cx="276.1" cy="516.38" r="3.4"/><circle cx="277.96" cy="515.38" r="3.4"/><circle cx="279.54" cy="513.99" r="3.4"/><circle cx="280.84" cy="512.45" r="3.4"/><circle cx="281.84" cy="511.03" r="3.4"/><circle cx="282.89" cy="509.21" r="3.4"/><circle cx="283.9" cy="507.43" r="3.4"/><circle cx="284.82" cy="505.8" r="3.4"/><circle cx="285.73" cy="504.16" r="3.4"/></g>
<g fill="#1c6bd6"><path d="M236.52 519.89 L240.32 526.92 L232.72 526.92Z"/><path d="M237.47 517.88 L241.27 524.91 L233.67 524.91Z"/><path d="M238.29 516.13 L242.09 523.16 L234.49 523.16Z"/><path d="M239.14 514.27 L242.94 521.3 L235.34 521.3Z"/><path d="M239.87 512.61 L243.67 519.64 L236.07 519.64Z"/><path d="M240.85 510.41 L244.65 517.44 L237.05 517.44Z"/><path d="M241.63 508.69 L245.43 515.72 L237.83 515.72Z"/><path d="M242.38 507.08 L246.18 514.11 L238.58 514.11Z"/><path d="M243.31 505.17 L247.11 512.2 L239.51 512.2Z"/><path d="M244.25 503.25 L248.05 510.28 L240.45 510.28Z"/><path d="M245.06 501.66 L248.86 508.69 L241.26 508.69Z"/><path d="M246.13 499.72 L249.93 506.75 L242.33 506.75Z"/><path d="M247.02 498.12 L250.82 505.15 L243.22 505.15Z"/><path d="M247.9 496.32 L251.7 503.35 L244.1 503.35Z"/><path d="M248.74 494.19 L252.54 501.22 L244.94 501.22Z"/><path d="M249.3 492.35 L253.1 499.38 L245.5 499.38Z"/><path d="M249.85 490.37 L253.65 497.4 L246.05 497.4Z"/><path d="M250.44 488.34 L254.24 495.37 L246.64 495.37Z"/><path d="M251.12 486.33 L254.92 493.36 L247.32 493.36Z"/><path d="M251.66 485.04 L255.46 492.07 L247.86 492.07Z"/><path d="M252.61 483.07 L256.41 490.1 L248.81 490.1Z"/><path d="M253.69 481.04 L257.49 488.07 L249.89 488.07Z"/><path d="M254.45 479.7 L258.25 486.73 L250.65 486.73Z"/><path d="M255.64 477.77 L259.44 484.8 L251.84 484.8Z"/><path d="M256.81 476.04 L260.61 483.07 L253.01 483.07Z"/><path d="M257.94 474.59 L261.74 481.62 L254.14 481.62Z"/><path d="M259.41 473.06 L263.21 480.09 L255.61 480.09Z"/><path d="M260.89 471.86 L264.69 478.89 L257.09 478.89Z"/><path d="M262.37 470.86 L266.17 477.89 L258.57 477.89Z"/><path d="M264.21 469.73 L268.01 476.76 L260.41 476.76Z"/><path d="M266.06 468.8 L269.86 475.83 L262.26 475.83Z"/><path d="M267.91 468.1 L271.71 475.13 L264.11 475.13Z"/><path d="M269.74 467.68 L273.54 474.71 L265.94 474.71Z"/><path d="M271.54 467.55 L275.34 474.58 L267.74 474.58Z"/><path d="M273.68 467.73 L277.48 474.76 L269.88 474.76Z"/><path d="M275.49 468.1 L279.29 475.13 L271.69 475.13Z"/><path d="M277.7 468.85 L281.5 475.88 L273.9 475.88Z"/><path d="M279.55 469.69 L283.35 476.72 L275.75 476.72Z"/><path d="M281.03 470.44 L284.83 477.47 L277.23 477.47Z"/><path d="M282.88 471.45 L286.68 478.48 L279.08 478.48Z"/><path d="M284.72 472.59 L288.52 479.62 L280.92 479.62Z"/><path d="M286.2 473.64 L290 480.67 L282.4 480.67Z"/><path d="M287.68 474.87 L291.48 481.9 L283.88 481.9Z"/><path d="M289.2 476.3 L293 483.33 L285.4 483.33Z"/><path d="M290.71 477.85 L294.51 484.88 L286.91 484.88Z"/><path d="M292.16 479.41 L295.96 486.44 L288.36 486.44Z"/><path d="M293.51 480.91 L297.31 487.94 L289.71 487.94Z"/><path d="M294.77 482.4 L298.57 489.43 L290.97 489.43Z"/><path d="M295.97 483.89 L299.77 490.92 L292.17 490.92Z"/><path d="M297.13 485.37 L300.93 492.4 L293.33 492.4Z"/><path d="M298.24 486.87 L302.04 493.9 L294.44 493.9Z"/><path d="M299.59 488.79 L303.39 495.82 L295.79 495.82Z"/><path d="M300.6 490.3 L304.4 497.33 L296.8 497.33Z"/><path d="M301.78 492.06 L305.58 499.09 L297.98 499.09Z"/><path d="M302.77 493.65 L306.57 500.68 L298.97 500.68Z"/><path d="M303.82 495.38 L307.62 502.41 L300.02 502.41Z"/><path d="M305.03 496.89 L308.83 503.92 L301.23 503.92Z"/><path d="M306.52 498.24 L310.32 505.27 L302.72 505.27Z"/><path d="M308.11 499.29 L311.91 506.32 L304.31 506.32Z"/><path d="M309.91 499.83 L313.71 506.86 L306.11 506.86Z"/><path d="M311.96 499.63 L315.76 506.66 L308.16 506.66Z"/><path d="M314 499.02 L317.8 506.05 L310.2 506.05Z"/><path d="M315.79 498.15 L319.59 505.18 L311.99 505.18Z"/><path d="M317.32 496.96 L321.12 503.99 L313.52 503.99Z"/><path d="M318.6 495.52 L322.4 502.55 L314.8 502.55Z"/><path d="M319.88 493.83 L323.68 500.86 L316.08 500.86Z"/><path d="M321.16 492.06 L324.96 499.09 L317.36 499.09Z"/><path d="M322.18 490.66 L325.98 497.69 L318.38 497.69Z"/><path d="M323.45 488.85 L327.25 495.88 L319.65 495.88Z"/><path d="M324.48 487.33 L328.28 494.36 L320.68 494.36Z"/><path d="M325.5 485.69 L329.3 492.72 L321.7 492.72Z"/><path d="M326.56 483.89 L330.36 490.92 L322.76 490.92Z"/><path d="M327.62 481.99 L331.42 489.02 L323.82 489.02Z"/><path d="M328.63 480.12 L332.43 487.15 L324.83 487.15Z"/><path d="M329.55 478.41 L333.35 485.44 L325.75 485.44Z"/><path d="M330.35 476.87 L334.15 483.9 L326.55 483.9Z"/><path d="M331.26 475.07 L335.06 482.1 L327.46 482.1Z"/><path d="M332.17 473.25 L335.97 480.28 L328.37 480.28Z"/><path d="M332.99 471.64 L336.79 478.67 L329.19 478.67Z"/><path d="M333.91 469.84 L337.71 476.87 L330.11 476.87Z"/><path d="M334.96 467.78 L338.76 474.81 L331.16 474.81Z"/><path d="M335.54 466.66 L339.34 473.69 L331.74 473.69Z"/></g>
<g fill="#2fa866"><path d="M236.37 527.81 L240.37 520.41 L232.37 520.41Z"/><path d="M236.74 526.06 L240.74 518.66 L232.74 518.66Z"/><path d="M237.09 524.42 L241.09 517.02 L233.09 517.02Z"/><path d="M237.43 522.69 L241.43 515.29 L233.43 515.29Z"/><path d="M237.78 520.67 L241.78 513.27 L233.78 513.27Z"/><path d="M238.03 519.04 L242.03 511.64 L234.03 511.64Z"/><path d="M238.35 516.92 L242.35 509.52 L234.35 509.52Z"/><path d="M238.64 515.11 L242.64 507.71 L234.64 507.71Z"/><path d="M238.99 513.21 L242.99 505.81 L234.99 505.81Z"/><path d="M239.36 511.23 L243.36 503.83 L235.36 503.83Z"/><path d="M239.76 509.16 L243.76 501.76 L235.76 501.76Z"/><path d="M240.26 506.45 L244.26 499.05 L236.26 499.05Z"/><path d="M240.66 504.15 L244.66 496.75 L236.66 496.75Z"/><path d="M241.07 501.76 L245.07 494.36 L237.07 494.36Z"/><path d="M241.5 499.34 L245.5 491.94 L237.5 491.94Z"/><path d="M241.93 496.96 L245.93 489.56 L237.93 489.56Z"/><path d="M242.39 494.55 L246.39 487.15 L238.39 487.15Z"/><path d="M242.97 491.54 L246.97 484.14 L238.97 484.14Z"/><path d="M243.53 488.65 L247.53 481.25 L239.53 481.25Z"/><path d="M244.04 485.97 L248.04 478.57 L240.04 478.57Z"/><path d="M244.68 482.47 L248.68 475.07 L240.68 475.07Z"/><path d="M245.26 479.46 L249.26 472.06 L241.26 472.06Z"/><path d="M246.08 475.42 L250.08 468.02 L242.08 468.02Z"/><path d="M246.82 471.88 L250.82 464.48 L242.82 464.48Z"/><path d="M250.45 465.39 L254.45 457.99 L246.45 457.99Z"/><path d="M253.33 458.91 L257.33 451.51 L249.33 451.51Z"/><path d="M256.05 451.88 L260.05 444.48 L252.05 444.48Z"/><path d="M258.93 444.86 L262.93 437.46 L254.93 437.46Z"/><path d="M262.26 436.48 L266.26 429.08 L258.26 429.08Z"/><path d="M266.05 428.91 L270.05 421.51 L262.05 421.51Z"/><path d="M270.44 421.89 L274.44 414.49 L266.44 414.49Z"/><path d="M276.04 413.24 L280.04 405.84 L272.04 405.84Z"/><path d="M281.64 405.94 L285.64 398.54 L277.64 398.54Z"/><path d="M288.76 399.46 L292.76 392.06 L284.76 392.06Z"/><path d="M296.93 393.51 L300.93 386.11 L292.93 386.11Z"/><path d="M305.71 389.46 L309.71 382.06 L301.71 382.06Z"/><path d="M314.65 386.49 L318.65 379.09 L310.65 379.09Z"/><path d="M324.03 385.14 L328.03 377.74 L320.03 377.74Z"/><path d="M332.96 385.95 L336.96 378.55 L328.96 378.55Z"/><path d="M342.2 388.65 L346.2 381.25 L338.2 381.25Z"/><path d="M350.53 392.43 L354.53 385.03 L346.53 385.03Z"/><path d="M358.7 397.57 L362.7 390.17 L354.7 390.17Z"/><path d="M365.82 402.97 L369.82 395.57 L361.82 395.57Z"/><path d="M372.63 409.73 L376.63 402.33 L368.63 402.33Z"/><path d="M378.54 417.83 L382.54 410.43 L374.54 410.43Z"/><path d="M383.38 426.48 L387.38 419.08 L379.38 419.08Z"/><path d="M389.59 433.51 L393.59 426.11 L385.59 426.11Z"/><path d="M393.22 440.26 L397.22 432.86 L389.22 432.86Z"/><path d="M397.61 458.91 L401.61 451.51 L393.61 451.51Z"/><path d="M400.64 469.72 L404.64 462.32 L396.64 462.32Z"/><path d="M403.25 474.18 L407.25 466.78 L399.25 466.78Z"/><path d="M404.49 476.83 L408.49 469.43 L400.49 469.43Z"/><path d="M405.59 480.13 L409.59 472.73 L401.59 472.73Z"/><path d="M408.63 485.17 L412.63 477.77 L404.63 477.77Z"/><path d="M407.92 488.29 L411.92 480.89 L403.92 480.89Z"/><path d="M409.81 490.01 L413.81 482.61 L405.81 482.61Z"/><path d="M411.11 493.3 L415.11 485.9 L407.11 485.9Z"/><path d="M410.59 497.16 L414.59 489.76 L406.59 489.76Z"/><path d="M413.5 498.35 L417.5 490.95 L409.5 490.95Z"/><path d="M413.36 499.74 L417.36 492.34 L409.36 492.34Z"/><path d="M414.29 503.06 L418.29 495.66 L410.29 495.66Z"/><path d="M417.8 503.05 L421.8 495.65 L413.8 495.65Z"/><path d="M417.49 500.07 L421.49 492.67 L413.49 492.67Z"/><path d="M420.4 498.11 L424.4 490.71 L416.4 490.71Z"/><path d="M421.73 497.61 L425.73 490.21 L417.73 490.21Z"/><path d="M422.11 495.18 L426.11 487.78 L418.11 487.78Z"/><path d="M425.48 491.76 L429.48 484.36 L421.48 484.36Z"/><path d="M425.7 490.4 L429.7 483 L421.7 483Z"/><path d="M427.95 488.96 L431.95 481.56 L423.95 481.56Z"/><path d="M430.31 485.15 L434.31 477.75 L426.31 477.75Z"/><path d="M430.07 481.79 L434.07 474.39 L426.07 474.39Z"/><path d="M433.31 480.61 L437.31 473.21 L429.31 473.21Z"/><path d="M434.4 478.13 L438.4 470.73 L430.4 470.73Z"/><path d="M435.95 473.8 L439.95 466.4 L431.95 466.4Z"/><path d="M439.36 471.13 L443.36 463.73 L435.36 463.73Z"/><path d="M438.72 470.63 L442.72 463.23 L434.72 463.23Z"/></g>
<g fill="#b27be0"><path d="M236.98 518.87 L241.18 523.07 L236.98 527.27 L232.78 523.07Z"/><path d="M237.29 517.24 L241.49 521.44 L237.29 525.64 L233.09 521.44Z"/><path d="M237.66 515.34 L241.86 519.54 L237.66 523.74 L233.46 519.54Z"/><path d="M237.96 513.82 L242.16 518.02 L237.96 522.22 L233.76 518.02Z"/><path d="M238.39 511.92 L242.59 516.12 L238.39 520.32 L234.19 516.12Z"/><path d="M238.83 510.05 L243.03 514.25 L238.83 518.45 L234.63 514.25Z"/><path d="M239.25 508.06 L243.45 512.26 L239.25 516.46 L235.05 512.26Z"/><path d="M239.65 505.98 L243.85 510.18 L239.65 514.38 L235.45 510.18Z"/><path d="M239.97 504.21 L244.17 508.41 L239.97 512.61 L235.77 508.41Z"/><path d="M240.43 501.7 L244.63 505.9 L240.43 510.1 L236.23 505.9Z"/><path d="M240.77 499.82 L244.97 504.02 L240.77 508.22 L236.57 504.02Z"/><path d="M241.21 497.42 L245.41 501.62 L241.21 505.82 L237.01 501.62Z"/><path d="M241.64 495.06 L245.84 499.26 L241.64 503.46 L237.44 499.26Z"/><path d="M242.07 492.7 L246.27 496.9 L242.07 501.1 L237.87 496.9Z"/><path d="M242.51 490.33 L246.71 494.53 L242.51 498.73 L238.31 494.53Z"/><path d="M243.07 487.34 L247.27 491.54 L243.07 495.74 L238.87 491.54Z"/><path d="M243.54 484.89 L247.74 489.09 L243.54 493.29 L239.34 489.09Z"/><path d="M244 482.49 L248.2 486.69 L244 490.89 L239.8 486.69Z"/><path d="M244.65 479.17 L248.85 483.37 L244.65 487.57 L240.45 483.37Z"/><path d="M245.24 476.32 L249.44 480.52 L245.24 484.72 L241.04 480.52Z"/><path d="M245.88 473.27 L250.08 477.47 L245.88 481.67 L241.68 477.47Z"/><path d="M246.64 469.53 L250.84 473.73 L246.64 477.93 L242.44 473.73Z"/><path d="M247.42 465.64 L251.62 469.84 L247.42 474.04 L243.22 469.84Z"/><path d="M249.24 459.96 L253.44 464.16 L249.24 468.36 L245.04 464.16Z"/><path d="M251.06 452.94 L255.26 457.14 L251.06 461.34 L246.86 457.14Z"/><path d="M252.72 445.91 L256.92 450.11 L252.72 454.31 L248.52 450.11Z"/><path d="M255.45 438.08 L259.65 442.28 L255.45 446.48 L251.25 442.28Z"/><path d="M258.48 429.97 L262.68 434.17 L258.48 438.37 L254.28 434.17Z"/><path d="M261.96 421.05 L266.16 425.25 L261.96 429.45 L257.76 425.25Z"/><path d="M266.35 411.6 L270.55 415.8 L266.35 420 L262.15 415.8Z"/><path d="M271.65 402.14 L275.85 406.34 L271.65 410.54 L267.45 406.34Z"/><path d="M277.4 392.68 L281.6 396.88 L277.4 401.08 L273.2 396.88Z"/><path d="M283.91 383.22 L288.11 387.42 L283.91 391.62 L279.71 387.42Z"/><path d="M291.48 374.3 L295.68 378.5 L291.48 382.7 L287.28 378.5Z"/><path d="M299.96 367.28 L304.16 371.48 L299.96 375.68 L295.76 371.48Z"/><path d="M309.5 360.79 L313.7 364.99 L309.5 369.19 L305.3 364.99Z"/><path d="M319.34 355.66 L323.54 359.86 L319.34 364.06 L315.14 359.86Z"/><path d="M330.39 352.69 L334.59 356.89 L330.39 361.09 L326.19 356.89Z"/><path d="M340.99 351.07 L345.19 355.27 L340.99 359.47 L336.79 355.27Z"/><path d="M351.59 352.15 L355.79 356.35 L351.59 360.55 L347.39 356.35Z"/><path d="M362.34 355.12 L366.54 359.32 L362.34 363.52 L358.14 359.32Z"/><path d="M372.48 359.98 L376.68 364.18 L372.48 368.38 L368.28 364.18Z"/><path d="M381.87 365.39 L386.07 369.59 L381.87 373.79 L377.67 369.59Z"/><path d="M390.8 374.3 L395 378.5 L390.8 382.7 L386.6 378.5Z"/><path d="M397.92 381.06 L402.12 385.26 L397.92 389.46 L393.72 385.26Z"/><path d="M404.27 390.25 L408.47 394.45 L404.27 398.65 L400.07 394.45Z"/><path d="M414.42 398.35 L418.62 402.55 L414.42 406.75 L410.22 402.55Z"/><path d="M423.35 418.62 L427.55 422.82 L423.35 427.02 L419.15 422.82Z"/><path d="M425.02 425.11 L429.22 429.31 L425.02 433.51 L420.82 429.31Z"/><path d="M427.29 431.86 L431.49 436.06 L427.29 440.26 L423.09 436.06Z"/><path d="M430.16 438.89 L434.36 443.09 L430.16 447.29 L425.96 443.09Z"/><path d="M432.89 445.1 L437.09 449.3 L432.89 453.5 L428.69 449.3Z"/><path d="M435.01 451.05 L439.21 455.25 L435.01 459.45 L430.81 455.25Z"/><path d="M436.98 457.26 L441.18 461.46 L436.98 465.66 L432.78 461.46Z"/><path d="M438.94 463.21 L443.14 467.41 L438.94 471.61 L434.74 467.41Z"/><path d="M440.78 468.55 L444.98 472.75 L440.78 476.95 L436.58 472.75Z"/><path d="M441.92 472.55 L446.12 476.75 L441.92 480.95 L437.72 476.75Z"/><path d="M442.99 476.61 L447.19 480.81 L442.99 485.01 L438.79 480.81Z"/><path d="M445.32 481.27 L449.52 485.47 L445.32 489.67 L441.12 485.47Z"/><path d="M445.83 484.33 L450.03 488.53 L445.83 492.73 L441.63 488.53Z"/><path d="M447.83 486.3 L452.03 490.5 L447.83 494.7 L443.63 490.5Z"/><path d="M450.08 488.57 L454.28 492.77 L450.08 496.97 L445.88 492.77Z"/><path d="M451.71 489.87 L455.91 494.07 L451.71 498.27 L447.51 494.07Z"/><path d="M454.71 488.19 L458.91 492.39 L454.71 496.59 L450.51 492.39Z"/><path d="M456.2 486.17 L460.4 490.37 L456.2 494.57 L452 490.37Z"/><path d="M458.24 485.02 L462.44 489.22 L458.24 493.42 L454.04 489.22Z"/><path d="M460.92 483.47 L465.12 487.67 L460.92 491.87 L456.72 487.67Z"/><path d="M461.92 480.38 L466.12 484.58 L461.92 488.78 L457.72 484.58Z"/><path d="M464.3 478 L468.5 482.2 L464.3 486.4 L460.1 482.2Z"/><path d="M466.1 476.4 L470.3 480.6 L466.1 484.8 L461.9 480.6Z"/><path d="M467.43 473.79 L471.63 477.99 L467.43 482.19 L463.23 477.99Z"/><path d="M470.05 470.82 L474.25 475.02 L470.05 479.22 L465.85 475.02Z"/><path d="M471.22 468.47 L475.42 472.67 L471.22 476.87 L467.02 472.67Z"/><path d="M473.26 466.41 L477.46 470.61 L473.26 474.81 L469.06 470.61Z"/><path d="M475.4 463.23 L479.6 467.43 L475.4 471.63 L471.2 467.43Z"/><path d="M476.41 459.99 L480.61 464.19 L476.41 468.39 L472.21 464.19Z"/><path d="M478.96 458.12 L483.16 462.32 L478.96 466.52 L474.76 462.32Z"/><path d="M480.72 455.1 L484.92 459.3 L480.72 463.5 L476.52 459.3Z"/><path d="M482.43 451.47 L486.63 455.67 L482.43 459.87 L478.23 455.67Z"/><path d="M485.36 448.32 L489.56 452.52 L485.36 456.72 L481.16 452.52Z"/><path d="M486.56 446.09 L490.76 450.29 L486.56 454.49 L482.36 450.29Z"/><path d="M488.12 444.41 L492.32 448.61 L488.12 452.81 L483.92 448.61Z"/></g>
<g fill="#c8940d"><path d="M232.84 523.88 L239.87 520.08 L239.87 527.68Z"/><path d="M233.41 521.96 L240.44 518.16 L240.44 525.76Z"/><path d="M234.1 519.82 L241.13 516.02 L241.13 523.62Z"/><path d="M234.74 517.98 L241.77 514.18 L241.77 521.78Z"/><path d="M235.51 516.35 L242.54 512.55 L242.54 520.15Z"/><path d="M236.77 514.39 L243.8 510.59 L243.8 518.19Z"/><path d="M237.87 512.79 L244.9 508.99 L244.9 516.59Z"/><path d="M239.14 511.2 L246.17 507.4 L246.17 515Z"/><path d="M240.56 509.83 L247.59 506.03 L247.59 513.63Z"/><path d="M242.17 508.68 L249.2 504.88 L249.2 512.48Z"/><path d="M243.97 507.64 L251 503.84 L251 511.44Z"/><path d="M245.85 506.82 L252.88 503.02 L252.88 510.62Z"/><path d="M247.67 506.32 L254.7 502.52 L254.7 510.12Z"/><path d="M249.45 506.18 L256.48 502.38 L256.48 509.98Z"/><path d="M251.67 506.43 L258.7 502.63 L258.7 510.23Z"/><path d="M253.4 506.91 L260.43 503.11 L260.43 510.71Z"/><path d="M255.43 507.82 L262.46 504.02 L262.46 511.62Z"/><path d="M256.98 508.95 L264.01 505.15 L264.01 512.75Z"/><path d="M258.45 510.27 L265.48 506.47 L265.48 514.07Z"/><path d="M259.86 511.57 L266.89 507.77 L266.89 515.37Z"/><path d="M261.52 512.98 L268.55 509.18 L268.55 516.78Z"/><path d="M262.74 514.19 L269.77 510.39 L269.77 517.99Z"/><path d="M264.5 515.56 L271.53 511.76 L271.53 519.36Z"/><path d="M266.28 515.6 L273.31 511.8 L273.31 519.4Z"/><path d="M268.03 514.36 L275.06 510.56 L275.06 518.16Z"/><path d="M269.49 512.8 L276.52 509 L276.52 516.6Z"/><path d="M270.67 511.41 L277.7 507.61 L277.7 515.21Z"/><path d="M271.84 509.74 L278.87 505.94 L278.87 513.54Z"/><path d="M273.01 507.88 L280.04 504.08 L280.04 511.68Z"/><path d="M273.89 506.42 L280.92 502.62 L280.92 510.22Z"/><path d="M275.07 504.49 L282.1 500.69 L282.1 508.29Z"/><path d="M275.95 503.01 L282.98 499.21 L282.98 506.81Z"/><path d="M277.12 500.99 L284.15 497.19 L284.15 504.79Z"/><path d="M278 499.45 L285.03 495.65 L285.03 503.25Z"/><path d="M278.88 497.89 L285.91 494.09 L285.91 501.69Z"/><path d="M280.05 495.83 L287.08 492.03 L287.08 499.63Z"/><path d="M280.93 494.25 L287.96 490.45 L287.96 498.05Z"/><path d="M281.81 492.67 L288.84 488.87 L288.84 496.47Z"/><path d="M282.99 490.57 L290.02 486.77 L290.02 494.37Z"/><path d="M283.87 489 L290.9 485.2 L290.9 492.8Z"/><path d="M284.75 487.46 L291.78 483.66 L291.78 491.26Z"/><path d="M285.91 485.43 L292.94 481.63 L292.94 489.23Z"/><path d="M286.78 483.91 L293.81 480.11 L293.81 487.71Z"/><path d="M287.96 481.89 L294.99 478.09 L294.99 485.69Z"/><path d="M288.85 480.38 L295.88 476.58 L295.88 484.18Z"/><path d="M289.84 478.74 L296.87 474.94 L296.87 482.54Z"/><path d="M290.92 476.98 L297.95 473.18 L297.95 480.78Z"/><path d="M291.99 475.26 L299.02 471.46 L299.02 479.06Z"/><path d="M292.95 473.73 L299.98 469.93 L299.98 477.53Z"/><path d="M293.85 472.27 L300.88 468.47 L300.88 476.07Z"/></g>
<path d="M207 555.5 v-2 M210.03 555.5 v-2 M213.06 555.5 v-2 M216.08 555.5 v-2 M219.11 555.5 v-2 M222.14 555.5 v-2 M225.17 555.5 v-2 M228.2 555.5 v-2 M231.22 555.5 v-2 M234.25 555.5 v-2 M237.28 555.5 v-2 M240.31 555.5 v-2 M243.34 555.5 v-2 M246.36 555.5 v-2 M249.39 555.5 v-2 M252.42 555.5 v-2 M255.45 555.5 v-2 M258.48 555.5 v-2 M261.5 555.5 v-2 M264.53 555.5 v-2 M267.56 555.5 v-2 M270.59 555.5 v-2 M273.62 555.5 v-2 M276.64 555.5 v-2 M279.67 555.5 v-2 M282.7 555.5 v-2 M285.73 555.5 v-2 M288.76 555.5 v-2 M291.78 555.5 v-2 M294.81 555.5 v-2 M297.84 555.5 v-2 M300.87 555.5 v-2 M303.9 555.5 v-2 M306.92 555.5 v-2 M309.95 555.5 v-2 M312.98 555.5 v-2 M316.01 555.5 v-2 M319.04 555.5 v-2 M322.06 555.5 v-2 M325.09 555.5 v-2 M328.12 555.5 v-2 M331.15 555.5 v-2 M334.18 555.5 v-2 M337.2 555.5 v-2 M340.23 555.5 v-2 M343.26 555.5 v-2 M346.29 555.5 v-2 M349.32 555.5 v-2 M352.34 555.5 v-2 M355.37 555.5 v-2 M358.4 555.5 v-2 M361.43 555.5 v-2 M364.46 555.5 v-2 M367.48 555.5 v-2 M370.51 555.5 v-2 M373.54 555.5 v-2 M376.57 555.5 v-2 M379.6 555.5 v-2 M382.62 555.5 v-2 M385.65 555.5 v-2 M388.68 555.5 v-2 M391.71 555.5 v-2 M394.74 555.5 v-2 M397.76 555.5 v-2 M400.79 555.5 v-2 M403.82 555.5 v-2 M406.85 555.5 v-2 M409.88 555.5 v-2 M412.9 555.5 v-2 M415.93 555.5 v-2 M418.96 555.5 v-2 M421.99 555.5 v-2 M425.02 555.5 v-2 M428.04 555.5 v-2 M431.07 555.5 v-2 M434.1 555.5 v-2 M437.13 555.5 v-2 M440.16 555.5 v-2 M443.18 555.5 v-2 M446.21 555.5 v-2 M449.24 555.5 v-2 M452.27 555.5 v-2 M455.3 555.5 v-2 M458.32 555.5 v-2 M461.35 555.5 v-2 M464.38 555.5 v-2 M467.41 555.5 v-2 M470.44 555.5 v-2 M473.46 555.5 v-2 M476.49 555.5 v-2 M479.52 555.5 v-2 M482.55 555.5 v-2 M485.58 555.5 v-2 M488.6 555.5 v-2 M491.63 555.5 v-2 M494.66 555.5 v-2 M497.69 555.5 v-2 M500.72 555.5 v-2 M503.74 555.5 v-2 M506.77 555.5 v-2 M509.8 555.5 v-2 M207 555.5 h1.7 M207 552.8 h1.7 M207 550.1 h1.7 M207 547.39 h1.7 M207 544.69 h1.7 M207 541.99 h1.7 M207 539.29 h1.7 M207 536.58 h1.7 M207 533.88 h1.7 M207 531.18 h1.7 M207 528.48 h1.7 M207 525.78 h1.7 M207 523.07 h1.7 M207 520.37 h1.7 M207 517.67 h1.7 M207 514.97 h1.7 M207 512.26 h1.7 M207 509.56 h1.7 M207 506.86 h1.7 M207 504.16 h1.7 M207 501.46 h1.7 M207 498.75 h1.7 M207 496.05 h1.7 M207 493.35 h1.7 M207 490.65 h1.7 M207 487.94 h1.7 M207 485.24 h1.7 M207 482.54 h1.7 M207 479.84 h1.7 M207 477.14 h1.7 M207 474.43 h1.7 M207 471.73 h1.7 M207 469.03 h1.7 M207 466.33 h1.7 M207 463.62 h1.7 M207 460.92 h1.7 M207 458.22 h1.7 M207 455.52 h1.7 M207 452.82 h1.7 M207 450.11 h1.7 M207 447.41 h1.7 M207 444.71 h1.7 M207 442.01 h1.7 M207 439.3 h1.7 M207 436.6 h1.7 M207 433.9 h1.7 M207 431.2 h1.7 M207 428.5 h1.7 M207 425.79 h1.7 M207 423.09 h1.7 M207 420.39 h1.7 M207 417.69 h1.7 M207 414.98 h1.7 M207 412.28 h1.7 M207 409.58 h1.7 M207 406.88 h1.7 M207 404.18 h1.7 M207 401.47 h1.7 M207 398.77 h1.7 M207 396.07 h1.7 M207 393.37 h1.7 M207 390.66 h1.7 M207 387.96 h1.7 M207 385.26 h1.7 M207 382.56 h1.7 M207 379.86 h1.7 M207 377.15 h1.7 M207 374.45 h1.7 M207 371.75 h1.7 M207 369.05 h1.7 M207 366.34 h1.7 M207 363.64 h1.7 M207 360.94 h1.7 M207 358.24 h1.7 M207 355.54 h1.7 M207 352.83 h1.7 M207 350.13 h1.7 M207 347.43 h1.7 M207 344.73 h1.7 M207 342.02 h1.7 M207 339.32 h1.7 M207 336.62 h1.7 M207 333.92 h1.7 M207 331.22 h1.7 M207 328.51 h1.7 M207 325.81 h1.7 M207 323.11 h1.7 M207 320.41 h1.7 M207 317.7 h1.7 M207 315 h1.7 M207 312.3 h1.7" stroke="#1c1c1c" stroke-width="1.0" fill="none"/>
<path d="M207 312.3 v1.7 M210.03 312.3 v1.7 M213.06 312.3 v1.7 M216.08 312.3 v1.7 M219.11 312.3 v1.7 M222.14 312.3 v1.7 M225.17 312.3 v1.7 M228.2 312.3 v1.7 M231.22 312.3 v1.7 M234.25 312.3 v1.7 M237.28 312.3 v1.7 M240.31 312.3 v1.7 M243.34 312.3 v1.7 M246.36 312.3 v1.7 M249.39 312.3 v1.7 M252.42 312.3 v1.7 M255.45 312.3 v1.7 M258.48 312.3 v1.7 M261.5 312.3 v1.7 M264.53 312.3 v1.7 M267.56 312.3 v1.7 M270.59 312.3 v1.7 M273.62 312.3 v1.7 M276.64 312.3 v1.7 M279.67 312.3 v1.7 M282.7 312.3 v1.7 M285.73 312.3 v1.7 M288.76 312.3 v1.7 M291.78 312.3 v1.7 M294.81 312.3 v1.7 M297.84 312.3 v1.7 M300.87 312.3 v1.7 M303.9 312.3 v1.7 M306.92 312.3 v1.7 M309.95 312.3 v1.7 M312.98 312.3 v1.7 M316.01 312.3 v1.7 M319.04 312.3 v1.7 M322.06 312.3 v1.7 M325.09 312.3 v1.7 M328.12 312.3 v1.7 M331.15 312.3 v1.7 M334.18 312.3 v1.7 M337.2 312.3 v1.7 M340.23 312.3 v1.7 M343.26 312.3 v1.7 M346.29 312.3 v1.7 M349.32 312.3 v1.7 M352.34 312.3 v1.7 M355.37 312.3 v1.7 M358.4 312.3 v1.7 M361.43 312.3 v1.7 M364.46 312.3 v1.7 M367.48 312.3 v1.7 M370.51 312.3 v1.7 M373.54 312.3 v1.7 M376.57 312.3 v1.7 M379.6 312.3 v1.7 M382.62 312.3 v1.7 M385.65 312.3 v1.7 M388.68 312.3 v1.7 M391.71 312.3 v1.7 M394.74 312.3 v1.7 M397.76 312.3 v1.7 M400.79 312.3 v1.7 M403.82 312.3 v1.7 M406.85 312.3 v1.7 M409.88 312.3 v1.7 M412.9 312.3 v1.7 M415.93 312.3 v1.7 M418.96 312.3 v1.7 M421.99 312.3 v1.7 M425.02 312.3 v1.7 M428.04 312.3 v1.7 M431.07 312.3 v1.7 M434.1 312.3 v1.7 M437.13 312.3 v1.7 M440.16 312.3 v1.7 M443.18 312.3 v1.7 M446.21 312.3 v1.7 M449.24 312.3 v1.7 M452.27 312.3 v1.7 M455.3 312.3 v1.7 M458.32 312.3 v1.7 M461.35 312.3 v1.7 M464.38 312.3 v1.7 M467.41 312.3 v1.7 M470.44 312.3 v1.7 M473.46 312.3 v1.7 M476.49 312.3 v1.7 M479.52 312.3 v1.7 M482.55 312.3 v1.7 M485.58 312.3 v1.7 M488.6 312.3 v1.7 M491.63 312.3 v1.7 M494.66 312.3 v1.7 M497.69 312.3 v1.7 M500.72 312.3 v1.7 M503.74 312.3 v1.7 M506.77 312.3 v1.7 M509.8 312.3 v1.7 M509.8 555.5 h-1.7 M509.8 552.8 h-1.7 M509.8 550.1 h-1.7 M509.8 547.39 h-1.7 M509.8 544.69 h-1.7 M509.8 541.99 h-1.7 M509.8 539.29 h-1.7 M509.8 536.58 h-1.7 M509.8 533.88 h-1.7 M509.8 531.18 h-1.7 M509.8 528.48 h-1.7 M509.8 525.78 h-1.7 M509.8 523.07 h-1.7 M509.8 520.37 h-1.7 M509.8 517.67 h-1.7 M509.8 514.97 h-1.7 M509.8 512.26 h-1.7 M509.8 509.56 h-1.7 M509.8 506.86 h-1.7 M509.8 504.16 h-1.7 M509.8 501.46 h-1.7 M509.8 498.75 h-1.7 M509.8 496.05 h-1.7 M509.8 493.35 h-1.7 M509.8 490.65 h-1.7 M509.8 487.94 h-1.7 M509.8 485.24 h-1.7 M509.8 482.54 h-1.7 M509.8 479.84 h-1.7 M509.8 477.14 h-1.7 M509.8 474.43 h-1.7 M509.8 471.73 h-1.7 M509.8 469.03 h-1.7 M509.8 466.33 h-1.7 M509.8 463.62 h-1.7 M509.8 460.92 h-1.7 M509.8 458.22 h-1.7 M509.8 455.52 h-1.7 M509.8 452.82 h-1.7 M509.8 450.11 h-1.7 M509.8 447.41 h-1.7 M509.8 444.71 h-1.7 M509.8 442.01 h-1.7 M509.8 439.3 h-1.7 M509.8 436.6 h-1.7 M509.8 433.9 h-1.7 M509.8 431.2 h-1.7 M509.8 428.5 h-1.7 M509.8 425.79 h-1.7 M509.8 423.09 h-1.7 M509.8 420.39 h-1.7 M509.8 417.69 h-1.7 M509.8 414.98 h-1.7 M509.8 412.28 h-1.7 M509.8 409.58 h-1.7 M509.8 406.88 h-1.7 M509.8 404.18 h-1.7 M509.8 401.47 h-1.7 M509.8 398.77 h-1.7 M509.8 396.07 h-1.7 M509.8 393.37 h-1.7 M509.8 390.66 h-1.7 M509.8 387.96 h-1.7 M509.8 385.26 h-1.7 M509.8 382.56 h-1.7 M509.8 379.86 h-1.7 M509.8 377.15 h-1.7 M509.8 374.45 h-1.7 M509.8 371.75 h-1.7 M509.8 369.05 h-1.7 M509.8 366.34 h-1.7 M509.8 363.64 h-1.7 M509.8 360.94 h-1.7 M509.8 358.24 h-1.7 M509.8 355.54 h-1.7 M509.8 352.83 h-1.7 M509.8 350.13 h-1.7 M509.8 347.43 h-1.7 M509.8 344.73 h-1.7 M509.8 342.02 h-1.7 M509.8 339.32 h-1.7 M509.8 336.62 h-1.7 M509.8 333.92 h-1.7 M509.8 331.22 h-1.7 M509.8 328.51 h-1.7 M509.8 325.81 h-1.7 M509.8 323.11 h-1.7 M509.8 320.41 h-1.7 M509.8 317.7 h-1.7 M509.8 315 h-1.7 M509.8 312.3 h-1.7" stroke="#2e2e2e" stroke-width="0.9" fill="none"/>
<path d="M207 555.5 v-3.9 M237.28 555.5 v-3.9 M267.56 555.5 v-3.9 M297.84 555.5 v-3.9 M328.12 555.5 v-3.9 M358.4 555.5 v-3.9 M388.68 555.5 v-3.9 M418.96 555.5 v-3.9 M449.24 555.5 v-3.9 M479.52 555.5 v-3.9 M509.8 555.5 v-3.9 M207 555.5 h2.92 M207 528.48 h2.92 M207 501.46 h2.92 M207 474.43 h2.92 M207 447.41 h2.92 M207 420.39 h2.92 M207 393.37 h2.92 M207 366.34 h2.92 M207 339.32 h2.92 M207 312.3 h2.92" stroke="#1c1c1c" stroke-width="1.15" fill="none"/>
<path d="M207 312.3 v3.31 M237.28 312.3 v3.31 M267.56 312.3 v3.31 M297.84 312.3 v3.31 M328.12 312.3 v3.31 M358.4 312.3 v3.31 M388.68 312.3 v3.31 M418.96 312.3 v3.31 M449.24 312.3 v3.31 M479.52 312.3 v3.31 M509.8 312.3 v3.31 M509.8 555.5 h-2.81 M509.8 528.48 h-2.81 M509.8 501.46 h-2.81 M509.8 474.43 h-2.81 M509.8 447.41 h-2.81 M509.8 420.39 h-2.81 M509.8 393.37 h-2.81 M509.8 366.34 h-2.81 M509.8 339.32 h-2.81 M509.8 312.3 h-2.81" stroke="#2e2e2e" stroke-width="1.0" fill="none"/>
<path d="M207 312.3 H509.8 V555.5" fill="none" stroke="#2e2e2e" stroke-width="1.4" stroke-linecap="square"/>
<path d="M207 312.3 V555.5 H509.8" fill="none" stroke="#1c1c1c" stroke-width="1.55" stroke-linecap="square"/>
<text x="207" y="568.9" font-size="9.8" text-anchor="middle" textLength="15.96" lengthAdjust="spacingAndGlyphs" fill="#1f1f1f">−20</text>
<text x="237.28" y="568.9" font-size="9.8" text-anchor="middle" textLength="5.23" lengthAdjust="spacingAndGlyphs" fill="#1f1f1f">0</text>
<text x="267.56" y="568.9" font-size="9.8" text-anchor="middle" textLength="10.47" lengthAdjust="spacingAndGlyphs" fill="#1f1f1f">20</text>
<text x="297.84" y="568.9" font-size="9.8" text-anchor="middle" textLength="10.47" lengthAdjust="spacingAndGlyphs" fill="#1f1f1f">40</text>
<text x="328.12" y="568.9" font-size="9.8" text-anchor="middle" textLength="10.47" lengthAdjust="spacingAndGlyphs" fill="#1f1f1f">60</text>
<text x="358.4" y="568.9" font-size="9.8" text-anchor="middle" textLength="10.47" lengthAdjust="spacingAndGlyphs" fill="#1f1f1f">80</text>
<text x="388.68" y="568.9" font-size="9.8" text-anchor="middle" textLength="15.7" lengthAdjust="spacingAndGlyphs" fill="#1f1f1f">100</text>
<text x="418.96" y="568.9" font-size="9.8" text-anchor="middle" textLength="15.7" lengthAdjust="spacingAndGlyphs" fill="#1f1f1f">120</text>
<text x="449.24" y="568.9" font-size="9.8" text-anchor="middle" textLength="15.7" lengthAdjust="spacingAndGlyphs" fill="#1f1f1f">140</text>
<text x="479.52" y="568.9" font-size="9.8" text-anchor="middle" textLength="15.7" lengthAdjust="spacingAndGlyphs" fill="#1f1f1f">160</text>
<text x="509.8" y="568.9" font-size="9.8" text-anchor="middle" textLength="15.7" lengthAdjust="spacingAndGlyphs" fill="#1f1f1f">180</text>
<text x="203.3" y="558.33" font-size="9.8" text-anchor="end" textLength="15.96" lengthAdjust="spacingAndGlyphs" fill="#1f1f1f">−10</text>
<text x="203.3" y="531.31" font-size="9.8" text-anchor="end" textLength="5.23" lengthAdjust="spacingAndGlyphs" fill="#1f1f1f">0</text>
<text x="203.3" y="504.28" font-size="9.8" text-anchor="end" textLength="10.47" lengthAdjust="spacingAndGlyphs" fill="#1f1f1f">10</text>
<text x="203.3" y="477.26" font-size="9.8" text-anchor="end" textLength="10.47" lengthAdjust="spacingAndGlyphs" fill="#1f1f1f">20</text>
<text x="203.3" y="450.24" font-size="9.8" text-anchor="end" textLength="10.47" lengthAdjust="spacingAndGlyphs" fill="#1f1f1f">30</text>
<text x="203.3" y="423.22" font-size="9.8" text-anchor="end" textLength="10.47" lengthAdjust="spacingAndGlyphs" fill="#1f1f1f">40</text>
<text x="203.3" y="396.19" font-size="9.8" text-anchor="end" textLength="10.47" lengthAdjust="spacingAndGlyphs" fill="#1f1f1f">50</text>
<text x="203.3" y="369.17" font-size="9.8" text-anchor="end" textLength="10.47" lengthAdjust="spacingAndGlyphs" fill="#1f1f1f">60</text>
<text x="203.3" y="342.15" font-size="9.8" text-anchor="end" textLength="10.47" lengthAdjust="spacingAndGlyphs" fill="#1f1f1f">70</text>
<text x="203.3" y="315.13" font-size="9.8" text-anchor="end" textLength="10.47" lengthAdjust="spacingAndGlyphs" fill="#1f1f1f">80</text>
<rect x="401.2" y="318" width="104.7" height="61.9" fill="#fff" stroke="#6e6e6e" stroke-width="0.7"/>
<g fill="#1fe9f2"><rect x="408.96" y="320.26" width="5.88" height="5.88"/></g>
<text x="421.2" y="326" font-size="8.1" fill="#1f1f1f" xml:space="preserve">Porous Au (Bare)</text>
<g fill="#ee3f3c"><circle cx="411.9" cy="333.25" r="3.33"/></g>
<text x="421.2" y="336.05" font-size="8.1" fill="#1f1f1f" xml:space="preserve">First Ab: 10 µg/mL</text>
<g fill="#1c6bd6"><path d="M411.9 339.63 L415.4 346.1 L408.4 346.1Z"/></g>
<text x="423" y="346.1" font-size="8.1" fill="#1f1f1f" xml:space="preserve">Block (Gelatine)</text>
<g fill="#2fa866"><path d="M411.9 357.21 L415.58 350.41 L408.22 350.41Z"/></g>
<text x="421.2" y="356.15" font-size="8.1" fill="#1f1f1f" xml:space="preserve">rp-CP-TBRFV: 1pg/mL</text>
<g fill="#b27be0"><path d="M411.9 359.54 L415.76 363.4 L411.9 367.26 L408.04 363.4Z"/></g>
<text x="421.2" y="366.2" font-size="8.1" fill="#1f1f1f" xml:space="preserve">Ab-HRP: 0.42 µg/mL</text>
<g fill="#c8940d"><path d="M408.23 373.45 L414.7 369.95 L414.7 376.95Z"/></g>
<text x="421.2" y="376.25" font-size="8.1" fill="#1f1f1f">Ab-HRP+TMB+H<tspan font-size="4.86" dy="1.78">2</tspan><tspan dy="-1.78">O</tspan><tspan font-size="4.86" dy="1.78">2</tspan></text>
<text x="344.1" y="325.1" font-size="10.7" text-anchor="middle" fill="#1f1f1f">c</text>
<text transform="translate(358.2 587.6)" font-size="10.6" text-anchor="middle" textLength="46.5" lengthAdjust="spacingAndGlyphs" fill="#1f1f1f">Z real [Ω]</text>
<text transform="translate(182.2 434.2) rotate(-90)" font-size="10.6" text-anchor="middle" textLength="49.8" lengthAdjust="spacingAndGlyphs" fill="#1f1f1f">-Z img [Ω]</text>
</g>
</g>
</svg></body></html>
